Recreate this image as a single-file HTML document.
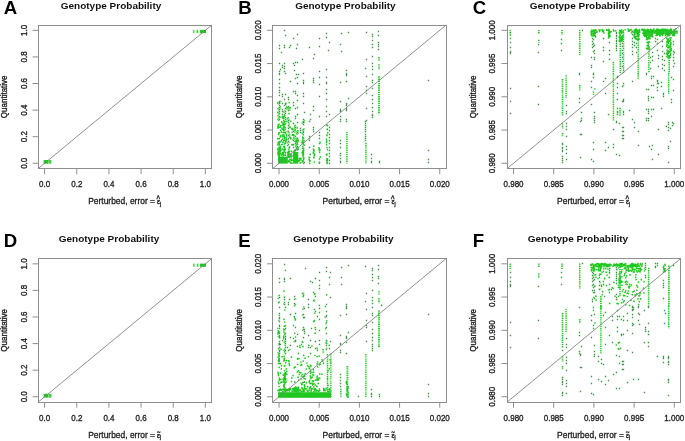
<!DOCTYPE html>
<html><head><meta charset="utf-8"><style>
html,body{margin:0;padding:0;background:#fff;}
svg{display:block;font-family:"Liberation Sans", sans-serif;filter:blur(0.35px);}
svg text{fill:#222;} .t{stroke:#222;stroke-width:0.3px;} .tb{fill:#111;} .tl{fill:#000;}
</style></head><body>
<svg width="685" height="441" viewBox="0 0 685 441">
<rect width="685" height="441" fill="#fff"/>
<g><rect x="192.9" y="29.9" width="1.6" height="3.2" fill="#1ec81e" fill-opacity="0.75"/><rect x="196.5" y="29.9" width="1.6" height="3.2" fill="#1ec81e" fill-opacity="0.85"/><rect x="199.9" y="29.9" width="6.1" height="3.2" fill="#1ec81e" fill-opacity="1.0"/><rect x="43.6" y="160.0" width="4.8" height="3.7" fill="#1ec81e" fill-opacity="1.0"/><rect x="48.6" y="160.0" width="2.7" height="3.7" fill="#1ec81e" fill-opacity="0.85"/><line x1="38.20" y1="168.60" x2="211.80" y2="25.00" stroke="#7c7c7c" stroke-width="0.85"/><rect x="38.50" y="25.50" width="173.00" height="143.00" fill="none" stroke="#8e8e8e" stroke-width="1"/><line x1="44.63" y1="168.60" x2="44.63" y2="174.20" stroke="#8e8e8e" stroke-width="1"/><line x1="32.60" y1="163.28" x2="38.20" y2="163.28" stroke="#8e8e8e" stroke-width="1"/><text transform="translate(44.63,187.10) scale(1,1.15)" text-anchor="middle" font-size="8" class="t">0.0</text><text transform="translate(26.50,163.28) rotate(-90) scale(1,1.18)" text-anchor="middle" font-size="8.0" class="t">0.0</text><line x1="76.78" y1="168.60" x2="76.78" y2="174.20" stroke="#8e8e8e" stroke-width="1"/><line x1="32.60" y1="136.69" x2="38.20" y2="136.69" stroke="#8e8e8e" stroke-width="1"/><text transform="translate(76.78,187.10) scale(1,1.15)" text-anchor="middle" font-size="8" class="t">0.2</text><text transform="translate(26.50,136.69) rotate(-90) scale(1,1.18)" text-anchor="middle" font-size="8.0" class="t">0.2</text><line x1="108.93" y1="168.60" x2="108.93" y2="174.20" stroke="#8e8e8e" stroke-width="1"/><line x1="32.60" y1="110.10" x2="38.20" y2="110.10" stroke="#8e8e8e" stroke-width="1"/><text transform="translate(108.93,187.10) scale(1,1.15)" text-anchor="middle" font-size="8" class="t">0.4</text><text transform="translate(26.50,110.10) rotate(-90) scale(1,1.18)" text-anchor="middle" font-size="8.0" class="t">0.4</text><line x1="141.07" y1="168.60" x2="141.07" y2="174.20" stroke="#8e8e8e" stroke-width="1"/><line x1="32.60" y1="83.50" x2="38.20" y2="83.50" stroke="#8e8e8e" stroke-width="1"/><text transform="translate(141.07,187.10) scale(1,1.15)" text-anchor="middle" font-size="8" class="t">0.6</text><text transform="translate(26.50,83.50) rotate(-90) scale(1,1.18)" text-anchor="middle" font-size="8.0" class="t">0.6</text><line x1="173.22" y1="168.60" x2="173.22" y2="174.20" stroke="#8e8e8e" stroke-width="1"/><line x1="32.60" y1="56.91" x2="38.20" y2="56.91" stroke="#8e8e8e" stroke-width="1"/><text transform="translate(173.22,187.10) scale(1,1.15)" text-anchor="middle" font-size="8" class="t">0.8</text><text transform="translate(26.50,56.91) rotate(-90) scale(1,1.18)" text-anchor="middle" font-size="8.0" class="t">0.8</text><line x1="205.37" y1="168.60" x2="205.37" y2="174.20" stroke="#8e8e8e" stroke-width="1"/><line x1="32.60" y1="30.32" x2="38.20" y2="30.32" stroke="#8e8e8e" stroke-width="1"/><text transform="translate(205.37,187.10) scale(1,1.15)" text-anchor="middle" font-size="8" class="t">1.0</text><text transform="translate(26.50,30.32) rotate(-90) scale(1,1.18)" text-anchor="middle" font-size="8.0" class="t">1.0</text><text transform="translate(7.20,96.80) rotate(-90) scale(1,1.2)" text-anchor="middle" font-size="8" class="t">Quantitative</text><g transform="translate(88.20,203.80) scale(1,1.116)" class="t"><text x="0" y="0" font-size="8.45">Perturbed, error =</text><text x="68.9" y="0" font-size="7">&#949;</text><text x="68.4" y="-1.6" font-size="7.5">^</text><text x="71.9" y="1.6" font-size="5">j</text></g><text transform="translate(111.00,8.90) scale(1,0.95)" text-anchor="middle" font-size="10" font-weight="bold" class="tb">Genotype Probability</text><text transform="translate(3.80,13.50) scale(1.07,1.05)" font-size="17.4" font-weight="bold" class="tl">A</text></g><g><rect x="278.0" y="156.9" width="9.8" height="6.7" fill="#1ec81e" fill-opacity="1.0"/><rect x="293.0" y="152.0" width="5.3" height="11.6" fill="#1ec81e" fill-opacity="1.0"/><line x1="379.0" y1="57.1" x2="379.0" y2="60.4" stroke="#1ec81e" stroke-width="1.6" stroke-dasharray="1.4 0.8"/><line x1="379.0" y1="64.2" x2="379.0" y2="69.6" stroke="#1ec81e" stroke-width="1.6" stroke-dasharray="1.4 0.8"/><line x1="379.0" y1="76.3" x2="379.0" y2="114.3" stroke="#1ec81e" stroke-width="1.8" stroke-dasharray="1.4 0.8"/><line x1="346.9" y1="131.9" x2="346.9" y2="163.6" stroke="#1ec81e" stroke-width="1.5" stroke-dasharray="1.4 0.8"/><line x1="365.9" y1="142.8" x2="365.9" y2="163.6" stroke="#1ec81e" stroke-width="1.5" stroke-dasharray="1.4 0.8"/><path d="M279.5 142.3h0M280.0 153.7h0M279.9 152.6h0M277.9 126.5h0M280.4 137.0h0M280.3 106.5h0M279.1 114.1h0M279.3 132.7h0M277.8 112.4h0M278.6 152.2h0M279.9 109.1h0M280.0 107.9h0M279.5 107.2h0M277.8 149.7h0M278.4 112.3h0M280.6 149.7h0M278.6 154.8h0M279.3 138.6h0M278.4 153.6h0M279.7 155.1h0M280.3 117.0h0M278.8 109.5h0M278.2 103.7h0M278.6 134.4h0M277.8 138.6h0M278.7 117.7h0M280.1 127.4h0M278.7 127.4h0M279.8 103.2h0M280.5 101.3h0M279.9 148.2h0M277.9 144.9h0M278.8 133.0h0M277.8 102.7h0M278.3 154.4h0M278.4 143.1h0M280.4 153.7h0M278.8 120.2h0M279.3 144.2h0M278.1 142.7h0M280.0 149.0h0M277.9 153.9h0M278.1 119.4h0M279.5 152.3h0M278.8 152.7h0M279.3 117.8h0M278.7 110.1h0M278.0 108.5h0M279.7 156.8h0M278.3 102.8h0M280.6 130.4h0M278.9 113.5h0M279.5 147.1h0M279.1 124.0h0M278.0 152.2h0M277.9 128.1h0M280.1 107.4h0M279.8 154.1h0M279.6 144.9h0M278.1 124.8h0M278.2 148.1h0M278.6 125.8h0M280.6 148.6h0M280.5 125.9h0M279.2 141.6h0M279.1 116.6h0M278.9 108.4h0M278.9 156.3h0M280.5 135.7h0M279.2 119.3h0M278.0 115.5h0M280.0 149.4h0M278.8 153.4h0M280.0 151.8h0M279.7 152.9h0M278.8 152.0h0M278.6 148.3h0M280.0 151.7h0M278.6 156.1h0M279.6 149.9h0M277.8 149.3h0M278.5 151.4h0M279.1 153.9h0M279.6 153.6h0M278.8 150.9h0M279.9 154.1h0M283.4 149.6h0M285.2 142.4h0M285.5 155.0h0M284.0 134.9h0M282.8 149.3h0M285.4 132.4h0M284.6 143.8h0M284.7 118.1h0M284.9 137.3h0M284.5 129.8h0M284.3 146.4h0M284.4 143.9h0M282.3 117.5h0M283.7 140.6h0M282.9 142.2h0M284.3 112.0h0M283.8 120.6h0M282.4 116.3h0M283.3 118.5h0M282.9 111.7h0M283.8 127.9h0M284.3 137.7h0M283.0 152.4h0M282.2 129.1h0M283.1 129.3h0M282.6 149.1h0M283.5 111.7h0M284.3 114.5h0M284.1 126.0h0M284.2 155.0h0M285.0 129.7h0M285.0 140.2h0M283.5 116.7h0M284.2 136.5h0M285.5 155.5h0M284.3 126.5h0M285.2 110.0h0M282.6 136.6h0M284.3 116.6h0M284.3 151.9h0M283.5 130.3h0M283.0 123.7h0M285.5 127.8h0M285.5 152.9h0M284.2 122.2h0M285.5 133.3h0M283.6 125.0h0M285.5 133.1h0M283.2 132.4h0M282.6 139.2h0M283.7 123.8h0M284.9 148.9h0M282.2 135.0h0M283.1 154.0h0M284.9 121.5h0M283.1 117.3h0M285.6 123.8h0M284.3 132.3h0M284.4 138.4h0M284.7 115.6h0M284.8 124.1h0M284.0 125.8h0M283.2 134.9h0M283.8 127.0h0M284.7 150.0h0M282.3 144.3h0M283.7 155.6h0M285.2 149.3h0M282.2 153.2h0M283.7 149.8h0M284.6 150.7h0M283.8 155.5h0M283.5 146.7h0M285.1 143.3h0M283.2 154.1h0M282.4 154.2h0M284.6 147.4h0M283.2 153.3h0M282.1 125.3h0M281.4 140.3h0M281.4 132.2h0M280.8 141.7h0M281.9 122.5h0M281.0 150.3h0M281.9 144.6h0M280.6 146.7h0M282.2 156.9h0M281.7 121.8h0M281.9 128.1h0M281.6 155.2h0M289.6 107.7h0M287.5 152.3h0M286.7 134.8h0M288.1 109.2h0M289.1 102.5h0M286.5 121.6h0M286.4 103.3h0M288.9 142.3h0M290.4 107.7h0M288.2 117.9h0M289.0 127.9h0M290.7 121.3h0M286.3 139.7h0M286.8 136.0h0M288.5 151.9h0M288.8 135.4h0M287.3 131.4h0M287.3 142.8h0M288.6 107.6h0M287.2 121.2h0M289.7 110.2h0M289.6 137.3h0M286.4 138.1h0M286.5 107.1h0M289.0 113.6h0M290.4 127.4h0M287.6 145.4h0M286.1 141.3h0M286.3 108.6h0M290.8 138.8h0M287.1 106.6h0M290.9 137.9h0M290.1 108.0h0M289.1 120.2h0M287.2 119.0h0M289.1 119.9h0M287.9 107.8h0M297.6 144.2h0M297.4 138.8h0M297.8 140.9h0M295.7 142.3h0M296.9 137.9h0M291.8 128.8h0M292.6 129.0h0M298.1 140.0h0M297.1 128.0h0M294.8 150.2h0M296.0 138.7h0M294.7 130.5h0M292.2 132.0h0M294.0 137.6h0M298.0 131.8h0M293.0 134.9h0M292.3 135.2h0M292.9 140.1h0M291.3 151.1h0M294.0 151.4h0M296.5 144.8h0M294.8 151.6h0M291.9 144.7h0M293.3 144.9h0M296.8 132.1h0M292.6 128.6h0M302.6 123.3h0M303.0 160.9h0M302.9 133.1h0M303.2 131.9h0M303.8 150.2h0M302.4 130.1h0M303.7 159.5h0M303.6 138.1h0M304.4 120.3h0M302.2 152.7h0M303.0 121.9h0M303.4 161.6h0M303.3 134.7h0M302.2 123.0h0M304.2 140.6h0M304.3 122.3h0M302.6 122.1h0M303.0 122.5h0M302.6 137.1h0M302.8 122.2h0M302.1 160.8h0M302.4 141.4h0M303.0 142.3h0M302.2 133.2h0M302.3 142.8h0M304.3 145.1h0M304.1 129.0h0M302.0 142.7h0M303.2 144.0h0M302.9 146.3h0M303.8 158.3h0M302.8 138.9h0M291.8 155.9h0M288.3 156.8h0M288.2 161.4h0M291.8 156.8h0M288.4 154.5h0M289.0 154.5h0M289.9 159.4h0M289.0 154.3h0M291.2 154.1h0M288.8 156.5h0M289.6 154.6h0M289.8 156.8h0M291.5 159.2h0M292.2 160.2h0M291.5 159.4h0M289.9 161.8h0M291.0 163.2h0M291.3 160.7h0M289.1 161.8h0M289.7 154.9h0M288.1 155.3h0M289.1 160.4h0M289.2 154.3h0M291.5 159.2h0M287.9 154.2h0M288.4 157.2h0M292.0 163.1h0M290.8 156.0h0M289.9 157.3h0M288.6 121.4h0M289.1 148.0h0M289.3 124.1h0M289.0 126.6h0M289.3 135.6h0M289.6 146.9h0M288.3 131.4h0M289.6 136.0h0M288.8 135.4h0M289.4 151.6h0M289.0 152.7h0M289.1 124.4h0M289.4 134.7h0M288.2 152.9h0M288.2 139.8h0M288.9 149.8h0M288.7 128.0h0M288.6 127.6h0M289.0 132.7h0M297.0 131.8h0M294.9 132.0h0M298.2 147.8h0M297.5 141.8h0M295.1 129.2h0M297.4 138.4h0M293.2 129.9h0M293.5 144.5h0M297.8 130.7h0M297.3 134.0h0M296.6 148.4h0M296.3 146.7h0M295.0 125.6h0M295.7 141.0h0M294.0 135.7h0M294.7 126.1h0M294.7 135.6h0M295.5 144.1h0M295.1 151.5h0M297.4 150.0h0M296.7 143.2h0M295.9 146.6h0M294.9 141.2h0M296.6 139.3h0M294.5 127.4h0M293.5 134.8h0M296.1 145.6h0M296.8 133.5h0M298.0 132.7h0M296.8 127.3h0M297.0 143.2h0M298.1 149.3h0M296.7 147.7h0M296.9 141.6h0M294.1 139.1h0M297.8 131.7h0M298.2 139.9h0M295.1 125.4h0M295.1 130.1h0M296.5 149.3h0M297.9 141.7h0M295.1 128.3h0M296.7 140.1h0M300.4 159.4h0M300.8 158.3h0M299.2 158.7h0M300.1 163.0h0M298.8 161.2h0M300.5 158.4h0M298.5 160.7h0M300.7 162.8h0M300.4 159.7h0M299.5 160.5h0M300.9 158.9h0M302.8 150.8h0M303.7 142.6h0M302.5 141.2h0M303.2 150.8h0M302.7 142.7h0M303.2 151.6h0M303.4 153.2h0M302.5 148.4h0M303.6 157.7h0M302.9 155.6h0M303.3 157.1h0M302.8 152.6h0M303.6 148.3h0M302.6 142.7h0M302.7 140.8h0M302.7 151.0h0M302.6 153.8h0M303.4 154.9h0M303.5 152.9h0M303.7 157.7h0M303.8 163.6h0M302.7 161.5h0M302.6 161.8h0M303.3 162.4h0M309.9 161.1h0M309.1 157.7h0M309.7 157.4h0M309.2 159.6h0M309.5 160.5h0M309.6 163.3h0M310.2 154.4h0M310.0 160.9h0M313.7 146.2h0M314.0 150.9h0M314.3 162.0h0M313.8 149.6h0M314.0 157.7h0M314.4 155.3h0M313.7 150.5h0M314.5 154.1h0M313.4 152.2h0M313.7 157.0h0M313.4 149.2h0M313.5 153.3h0M314.6 154.6h0M319.5 162.2h0M319.1 149.8h0M320.1 142.3h0M320.0 150.0h0M319.0 147.6h0M319.6 150.4h0M319.7 143.4h0M319.3 163.1h0M319.6 152.3h0M319.1 148.2h0M320.3 156.9h0M319.7 143.4h0M319.5 158.9h0M327.0 147.6h0M327.6 149.7h0M327.2 125.7h0M326.4 154.6h0M326.9 158.7h0M327.5 160.3h0M326.9 163.6h0M327.4 159.4h0M326.6 155.0h0M327.0 162.6h0M327.7 132.8h0M327.0 134.9h0M327.0 135.6h0M327.3 129.1h0M326.6 142.3h0M326.5 139.3h0M327.6 159.1h0M326.7 125.0h0M327.5 162.1h0M327.2 129.6h0M326.7 160.5h0M327.6 125.5h0M326.7 141.2h0M326.8 154.0h0M326.9 154.8h0M326.6 144.7h0" stroke="#1ec81e" stroke-width="1.7" stroke-linecap="round" fill="none"/><path d="M284.5 30.5h0M285.5 35.5h0M297.5 34.5h0M293.5 38.5h0M279.5 45.5h0M279.5 48.5h0M284.5 45.5h0M284.5 47.5h0M290.5 45.5h0M289.5 47.5h0M297.5 44.5h0M296.5 48.5h0M281.5 52.5h0M319.5 38.5h0M319.5 46.5h0M309.5 47.5h0M314.5 54.5h0M313.5 58.5h0M302.5 59.5h0M326.5 33.5h0M326.5 37.5h0M329.5 42.5h0M328.5 50.5h0M279.5 63.5h0M284.5 63.5h0M282.5 65.5h0M284.5 66.5h0M293.5 63.5h0M295.5 62.5h0M297.5 62.5h0M294.5 65.5h0M280.5 69.5h0M282.5 67.5h0M284.5 68.5h0M284.5 71.5h0M294.5 70.5h0M319.5 71.5h0M326.5 69.5h0M279.5 71.5h0M341.5 33.5h0M348.5 32.5h0M340.5 44.5h0M341.5 51.5h0M366.5 32.5h0M372.5 34.5h0M372.5 36.5h0M372.5 40.5h0M372.5 44.5h0M372.5 47.5h0M372.5 56.5h0M372.5 63.5h0M372.5 66.5h0M372.5 69.5h0M366.5 59.5h0M365.5 68.5h0M378.5 31.5h0M378.5 35.5h0M378.5 42.5h0M378.5 44.5h0M378.5 46.5h0M378.5 49.5h0M346.5 70.5h0M279.5 73.5h0M279.5 74.5h0M279.5 79.5h0M279.5 83.5h0M279.5 87.5h0M279.5 90.5h0M279.5 92.5h0M279.5 95.5h0M279.5 101.5h0M279.5 102.5h0M279.5 103.5h0M279.5 105.5h0M279.5 107.5h0M279.5 109.5h0M279.5 111.5h0M279.5 113.5h0M279.5 116.5h0M279.5 119.5h0M285.5 73.5h0M285.5 94.5h0M285.5 103.5h0M285.5 104.5h0M285.5 108.5h0M285.5 111.5h0M285.5 113.5h0M285.5 117.5h0M285.5 119.5h0M282.5 94.5h0M282.5 96.5h0M282.5 103.5h0M282.5 109.5h0M282.5 111.5h0M282.5 114.5h0M284.5 99.5h0M284.5 105.5h0M288.5 97.5h0M288.5 99.5h0M288.5 106.5h0M288.5 110.5h0M288.5 120.5h0M290.5 81.5h0M293.5 91.5h0M293.5 102.5h0M293.5 105.5h0M295.5 78.5h0M295.5 91.5h0M295.5 93.5h0M295.5 108.5h0M295.5 116.5h0M295.5 118.5h0M296.5 74.5h0M297.5 77.5h0M297.5 83.5h0M297.5 95.5h0M297.5 100.5h0M297.5 107.5h0M297.5 114.5h0M298.5 74.5h0M303.5 73.5h0M303.5 80.5h0M303.5 82.5h0M303.5 83.5h0M303.5 93.5h0M303.5 96.5h0M303.5 103.5h0M303.5 119.5h0M304.5 112.5h0M310.5 114.5h0M310.5 119.5h0M313.5 78.5h0M313.5 80.5h0M313.5 82.5h0M313.5 106.5h0M313.5 110.5h0M319.5 77.5h0M319.5 84.5h0M319.5 96.5h0M319.5 116.5h0M326.5 77.5h0M326.5 82.5h0M326.5 83.5h0M326.5 89.5h0M326.5 93.5h0M326.5 99.5h0M326.5 106.5h0M326.5 111.5h0M326.5 116.5h0M329.5 114.5h0M346.5 73.5h0M346.5 74.5h0M346.5 75.5h0M346.5 81.5h0M346.5 103.5h0M346.5 104.5h0M346.5 105.5h0M346.5 108.5h0M346.5 109.5h0M346.5 110.5h0M346.5 119.5h0M348.5 98.5h0M340.5 82.5h0M340.5 101.5h0M340.5 109.5h0M340.5 110.5h0M340.5 111.5h0M340.5 116.5h0M340.5 119.5h0M366.5 76.5h0M366.5 86.5h0M366.5 90.5h0M366.5 93.5h0M366.5 108.5h0M366.5 120.5h0M372.5 74.5h0M372.5 80.5h0M372.5 82.5h0M372.5 88.5h0M372.5 95.5h0M372.5 99.5h0M372.5 103.5h0M372.5 107.5h0M372.5 111.5h0M372.5 114.5h0M372.5 115.5h0M372.5 117.5h0M428.5 80.5h0M428.5 150.5h0M428.5 159.5h0M428.5 162.5h0M340.5 121.5h0M340.5 121.5h0M340.5 140.5h0M340.5 143.5h0M340.5 147.5h0M340.5 153.5h0M340.5 155.5h0M340.5 158.5h0M340.5 161.5h0M340.5 162.5h0M346.5 121.5h0M346.5 121.5h0M365.5 121.5h0M365.5 123.5h0M365.5 125.5h0M365.5 127.5h0M365.5 129.5h0M365.5 131.5h0M365.5 134.5h0M365.5 136.5h0M365.5 138.5h0M365.5 140.5h0M371.5 154.5h0M371.5 158.5h0M371.5 161.5h0M371.5 162.5h0M379.5 161.5h0M379.5 162.5h0M288.5 122.5h0M288.5 125.5h0M288.5 128.5h0M288.5 131.5h0M288.5 135.5h0M288.5 138.5h0M288.5 141.5h0M288.5 144.5h0M293.5 123.5h0M293.5 131.5h0M293.5 140.5h0M293.5 147.5h0M295.5 127.5h0M295.5 136.5h0M295.5 143.5h0M295.5 150.5h0M297.5 122.5h0M297.5 132.5h0M297.5 138.5h0M297.5 146.5h0M300.5 128.5h0M300.5 130.5h0M300.5 132.5h0M303.5 121.5h0M303.5 122.5h0M303.5 124.5h0M303.5 129.5h0M303.5 131.5h0M303.5 132.5h0M304.5 162.5h0M309.5 121.5h0M309.5 136.5h0M309.5 138.5h0M309.5 140.5h0M309.5 147.5h0M313.5 127.5h0M313.5 129.5h0M313.5 131.5h0M319.5 132.5h0M319.5 135.5h0M319.5 138.5h0M329.5 127.5h0M329.5 130.5h0M329.5 134.5h0M329.5 137.5h0M329.5 140.5h0M329.5 143.5h0M329.5 147.5h0M329.5 150.5h0M329.5 153.5h0M329.5 156.5h0M329.5 160.5h0M329.5 163.5h0" stroke="#c8f2c8" stroke-width="2.3" stroke-linecap="round" fill="none"/><path d="M284.5 30.5h0M285.5 35.5h0M297.5 34.5h0M293.5 38.5h0M279.5 45.5h0M279.5 48.5h0M284.5 45.5h0M284.5 47.5h0M290.5 45.5h0M289.5 47.5h0M297.5 44.5h0M296.5 48.5h0M281.5 52.5h0M319.5 38.5h0M319.5 46.5h0M309.5 47.5h0M314.5 54.5h0M313.5 58.5h0M302.5 59.5h0M326.5 33.5h0M326.5 37.5h0M329.5 42.5h0M328.5 50.5h0M279.5 63.5h0M284.5 63.5h0M282.5 65.5h0M284.5 66.5h0M293.5 63.5h0M295.5 62.5h0M297.5 62.5h0M294.5 65.5h0M280.5 69.5h0M282.5 67.5h0M284.5 68.5h0M284.5 71.5h0M294.5 70.5h0M319.5 71.5h0M326.5 69.5h0M279.5 71.5h0M341.5 33.5h0M348.5 32.5h0M340.5 44.5h0M341.5 51.5h0M366.5 32.5h0M372.5 34.5h0M372.5 36.5h0M372.5 40.5h0M372.5 44.5h0M372.5 47.5h0M372.5 56.5h0M372.5 63.5h0M372.5 66.5h0M372.5 69.5h0M366.5 59.5h0M365.5 68.5h0M378.5 31.5h0M378.5 35.5h0M378.5 42.5h0M378.5 44.5h0M378.5 46.5h0M378.5 49.5h0M346.5 70.5h0M279.5 73.5h0M279.5 74.5h0M279.5 79.5h0M279.5 83.5h0M279.5 87.5h0M279.5 90.5h0M279.5 92.5h0M279.5 95.5h0M279.5 101.5h0M279.5 102.5h0M279.5 103.5h0M279.5 105.5h0M279.5 107.5h0M279.5 109.5h0M279.5 111.5h0M279.5 113.5h0M279.5 116.5h0M279.5 119.5h0M285.5 73.5h0M285.5 94.5h0M285.5 103.5h0M285.5 104.5h0M285.5 108.5h0M285.5 111.5h0M285.5 113.5h0M285.5 117.5h0M285.5 119.5h0M282.5 94.5h0M282.5 96.5h0M282.5 103.5h0M282.5 109.5h0M282.5 111.5h0M282.5 114.5h0M284.5 99.5h0M284.5 105.5h0M288.5 97.5h0M288.5 99.5h0M288.5 106.5h0M288.5 110.5h0M288.5 120.5h0M290.5 81.5h0M293.5 91.5h0M293.5 102.5h0M293.5 105.5h0M295.5 78.5h0M295.5 91.5h0M295.5 93.5h0M295.5 108.5h0M295.5 116.5h0M295.5 118.5h0M296.5 74.5h0M297.5 77.5h0M297.5 83.5h0M297.5 95.5h0M297.5 100.5h0M297.5 107.5h0M297.5 114.5h0M298.5 74.5h0M303.5 73.5h0M303.5 80.5h0M303.5 82.5h0M303.5 83.5h0M303.5 93.5h0M303.5 96.5h0M303.5 103.5h0M303.5 119.5h0M304.5 112.5h0M310.5 114.5h0M310.5 119.5h0M313.5 78.5h0M313.5 80.5h0M313.5 82.5h0M313.5 106.5h0M313.5 110.5h0M319.5 77.5h0M319.5 84.5h0M319.5 96.5h0M319.5 116.5h0M326.5 77.5h0M326.5 82.5h0M326.5 83.5h0M326.5 89.5h0M326.5 93.5h0M326.5 99.5h0M326.5 106.5h0M326.5 111.5h0M326.5 116.5h0M329.5 114.5h0M346.5 73.5h0M346.5 74.5h0M346.5 75.5h0M346.5 81.5h0M346.5 103.5h0M346.5 104.5h0M346.5 105.5h0M346.5 108.5h0M346.5 109.5h0M346.5 110.5h0M346.5 119.5h0M348.5 98.5h0M340.5 82.5h0M340.5 101.5h0M340.5 109.5h0M340.5 110.5h0M340.5 111.5h0M340.5 116.5h0M340.5 119.5h0M366.5 76.5h0M366.5 86.5h0M366.5 90.5h0M366.5 93.5h0M366.5 108.5h0M366.5 120.5h0M372.5 74.5h0M372.5 80.5h0M372.5 82.5h0M372.5 88.5h0M372.5 95.5h0M372.5 99.5h0M372.5 103.5h0M372.5 107.5h0M372.5 111.5h0M372.5 114.5h0M372.5 115.5h0M372.5 117.5h0M428.5 80.5h0M428.5 150.5h0M428.5 159.5h0M428.5 162.5h0M340.5 121.5h0M340.5 121.5h0M340.5 140.5h0M340.5 143.5h0M340.5 147.5h0M340.5 153.5h0M340.5 155.5h0M340.5 158.5h0M340.5 161.5h0M340.5 162.5h0M346.5 121.5h0M346.5 121.5h0M365.5 121.5h0M365.5 123.5h0M365.5 125.5h0M365.5 127.5h0M365.5 129.5h0M365.5 131.5h0M365.5 134.5h0M365.5 136.5h0M365.5 138.5h0M365.5 140.5h0M371.5 154.5h0M371.5 158.5h0M371.5 161.5h0M371.5 162.5h0M379.5 161.5h0M379.5 162.5h0M288.5 122.5h0M288.5 125.5h0M288.5 128.5h0M288.5 131.5h0M288.5 135.5h0M288.5 138.5h0M288.5 141.5h0M288.5 144.5h0M293.5 123.5h0M293.5 131.5h0M293.5 140.5h0M293.5 147.5h0M295.5 127.5h0M295.5 136.5h0M295.5 143.5h0M295.5 150.5h0M297.5 122.5h0M297.5 132.5h0M297.5 138.5h0M297.5 146.5h0M300.5 128.5h0M300.5 130.5h0M300.5 132.5h0M303.5 121.5h0M303.5 122.5h0M303.5 124.5h0M303.5 129.5h0M303.5 131.5h0M303.5 132.5h0M304.5 162.5h0M309.5 121.5h0M309.5 136.5h0M309.5 138.5h0M309.5 140.5h0M309.5 147.5h0M313.5 127.5h0M313.5 129.5h0M313.5 131.5h0M319.5 132.5h0M319.5 135.5h0M319.5 138.5h0M329.5 127.5h0M329.5 130.5h0M329.5 134.5h0M329.5 137.5h0M329.5 140.5h0M329.5 143.5h0M329.5 147.5h0M329.5 150.5h0M329.5 153.5h0M329.5 156.5h0M329.5 160.5h0M329.5 163.5h0" stroke="#4b8a58" stroke-width="1.3" stroke-linecap="round" fill="none"/><line x1="272.60" y1="168.60" x2="446.20" y2="25.00" stroke="#7c7c7c" stroke-width="0.85"/><rect x="272.50" y="25.50" width="174.00" height="143.00" fill="none" stroke="#8e8e8e" stroke-width="1"/><line x1="279.03" y1="168.60" x2="279.03" y2="174.20" stroke="#8e8e8e" stroke-width="1"/><line x1="267.00" y1="163.28" x2="272.60" y2="163.28" stroke="#8e8e8e" stroke-width="1"/><text transform="translate(279.03,187.10) scale(1,1.15)" text-anchor="middle" font-size="8" class="t">0.000</text><text transform="translate(260.90,163.28) rotate(-90) scale(1,1.18)" text-anchor="middle" font-size="8.0" class="t">0.000</text><line x1="319.21" y1="168.60" x2="319.21" y2="174.20" stroke="#8e8e8e" stroke-width="1"/><line x1="267.00" y1="130.04" x2="272.60" y2="130.04" stroke="#8e8e8e" stroke-width="1"/><text transform="translate(319.21,187.10) scale(1,1.15)" text-anchor="middle" font-size="8" class="t">0.005</text><text transform="translate(260.90,130.04) rotate(-90) scale(1,1.18)" text-anchor="middle" font-size="8.0" class="t">0.005</text><line x1="359.40" y1="168.60" x2="359.40" y2="174.20" stroke="#8e8e8e" stroke-width="1"/><line x1="267.00" y1="96.80" x2="272.60" y2="96.80" stroke="#8e8e8e" stroke-width="1"/><text transform="translate(359.40,187.10) scale(1,1.15)" text-anchor="middle" font-size="8" class="t">0.010</text><text transform="translate(260.90,96.80) rotate(-90) scale(1,1.18)" text-anchor="middle" font-size="8.0" class="t">0.010</text><line x1="399.59" y1="168.60" x2="399.59" y2="174.20" stroke="#8e8e8e" stroke-width="1"/><line x1="267.00" y1="63.56" x2="272.60" y2="63.56" stroke="#8e8e8e" stroke-width="1"/><text transform="translate(399.59,187.10) scale(1,1.15)" text-anchor="middle" font-size="8" class="t">0.015</text><text transform="translate(260.90,63.56) rotate(-90) scale(1,1.18)" text-anchor="middle" font-size="8.0" class="t">0.015</text><line x1="439.77" y1="168.60" x2="439.77" y2="174.20" stroke="#8e8e8e" stroke-width="1"/><line x1="267.00" y1="30.32" x2="272.60" y2="30.32" stroke="#8e8e8e" stroke-width="1"/><text transform="translate(439.77,187.10) scale(1,1.15)" text-anchor="middle" font-size="8" class="t">0.020</text><text transform="translate(260.90,30.32) rotate(-90) scale(1,1.18)" text-anchor="middle" font-size="8.0" class="t">0.020</text><text transform="translate(241.60,96.80) rotate(-90) scale(1,1.2)" text-anchor="middle" font-size="8" class="t">Quantitative</text><g transform="translate(322.60,203.80) scale(1,1.116)" class="t"><text x="0" y="0" font-size="8.45">Perturbed, error =</text><text x="68.9" y="0" font-size="7">&#949;</text><text x="68.4" y="-1.6" font-size="7.5">^</text><text x="71.9" y="1.6" font-size="5">j</text></g><text transform="translate(345.40,8.90) scale(1,0.95)" text-anchor="middle" font-size="10" font-weight="bold" class="tb">Genotype Probability</text><text transform="translate(238.20,13.50) scale(1.07,1.05)" font-size="17.4" font-weight="bold" class="tl">B</text></g><g><line x1="510.3" y1="29.9" x2="510.3" y2="35.9" stroke="#1ec81e" stroke-width="1.6" stroke-dasharray="1.4 0.8"/><line x1="538.8" y1="29.9" x2="538.8" y2="33.7" stroke="#1ec81e" stroke-width="1.6" stroke-dasharray="1.4 0.8"/><line x1="538.8" y1="39.7" x2="538.8" y2="42.4" stroke="#1ec81e" stroke-width="1.6" stroke-dasharray="1.4 0.8"/><line x1="562.0" y1="29.9" x2="562.0" y2="34.8" stroke="#1ec81e" stroke-width="1.6" stroke-dasharray="1.4 0.8"/><line x1="579.7" y1="29.9" x2="579.7" y2="54.9" stroke="#1ec81e" stroke-width="1.6" stroke-dasharray="1.4 0.8"/><line x1="613.4" y1="62.0" x2="613.4" y2="73.0" stroke="#1ec81e" stroke-width="1.6" stroke-dasharray="1.4 0.8"/><line x1="620.3" y1="41.3" x2="620.3" y2="73.0" stroke="#1ec81e" stroke-width="1.6" stroke-dasharray="1.4 0.8"/><line x1="623.5" y1="29.9" x2="623.5" y2="73.0" stroke="#1ec81e" stroke-width="1.5" stroke-dasharray="1.4 0.8"/><line x1="638.2" y1="40.2" x2="638.2" y2="73.0" stroke="#1ec81e" stroke-width="1.4" stroke-dasharray="1.4 0.8"/><line x1="648.9" y1="48.9" x2="648.9" y2="73.0" stroke="#1ec81e" stroke-width="1.5" stroke-dasharray="1.4 0.8"/><line x1="669.2" y1="57.6" x2="669.2" y2="73.0" stroke="#1ec81e" stroke-width="1.6" stroke-dasharray="1.4 0.8"/><line x1="562.5" y1="79.0" x2="562.5" y2="116.5" stroke="#1ec81e" stroke-width="1.6" stroke-dasharray="1.4 0.8"/><line x1="566.1" y1="75.2" x2="566.1" y2="98.0" stroke="#1ec81e" stroke-width="1.4" stroke-dasharray="1.4 0.8"/><line x1="579.7" y1="85.0" x2="579.7" y2="90.4" stroke="#1ec81e" stroke-width="1.6" stroke-dasharray="1.4 0.8"/><line x1="593.5" y1="91.5" x2="593.5" y2="95.9" stroke="#1ec81e" stroke-width="1.4" stroke-dasharray="1.4 0.8"/><line x1="594.9" y1="88.2" x2="594.9" y2="90.4" stroke="#1ec81e" stroke-width="1.4" stroke-dasharray="1.4 0.8"/><line x1="613.4" y1="73.0" x2="613.4" y2="121.0" stroke="#1ec81e" stroke-width="1.5" stroke-dasharray="1.4 0.8"/><line x1="620.0" y1="107.8" x2="620.0" y2="116.5" stroke="#1ec81e" stroke-width="1.6" stroke-dasharray="1.4 0.8"/><line x1="623.5" y1="82.8" x2="623.5" y2="87.1" stroke="#1ec81e" stroke-width="1.4" stroke-dasharray="1.4 0.8"/><line x1="638.2" y1="73.0" x2="638.2" y2="79.5" stroke="#1ec81e" stroke-width="1.6" stroke-dasharray="1.4 0.8"/><line x1="668.7" y1="73.0" x2="668.7" y2="93.7" stroke="#1ec81e" stroke-width="1.5" stroke-dasharray="1.4 0.8"/><line x1="562.5" y1="123.2" x2="562.5" y2="128.6" stroke="#1ec81e" stroke-width="1.6" stroke-dasharray="1.4 0.8"/><line x1="562.5" y1="133.0" x2="562.5" y2="136.2" stroke="#1ec81e" stroke-width="1.5" stroke-dasharray="1.4 0.8"/><path d="M593.1 33.9h0M595.1 33.2h0M593.3 34.1h0M591.9 33.5h0M593.9 35.5h0M591.5 32.0h0M591.5 35.6h0M594.1 30.2h0M595.4 36.7h0M594.0 34.3h0M591.8 30.0h0M593.4 30.3h0M591.9 31.6h0M591.2 33.2h0M593.0 35.9h0M593.4 34.4h0M593.3 34.6h0M593.1 31.9h0M595.5 36.9h0M594.8 34.9h0M592.5 31.5h0M592.4 30.4h0M594.5 32.7h0M594.8 32.6h0M595.3 35.9h0M591.1 31.4h0M595.1 33.2h0M595.4 32.7h0M591.4 34.3h0M594.5 31.8h0M602.7 31.2h0M603.9 32.8h0M602.7 30.8h0M602.7 30.1h0M603.7 30.6h0M609.3 33.5h0M608.7 35.9h0M608.6 35.2h0M608.5 33.3h0M608.7 32.1h0M610.1 36.5h0M608.9 37.1h0M608.7 33.1h0M609.9 35.1h0M608.5 38.0h0M608.7 32.0h0M609.7 32.6h0M608.9 30.5h0M619.5 36.6h0M620.1 36.8h0M620.6 35.1h0M622.8 35.4h0M621.4 39.8h0M619.9 31.7h0M622.7 39.2h0M620.1 32.1h0M622.0 40.6h0M619.9 40.8h0M622.6 36.8h0M620.8 31.1h0M619.3 40.9h0M620.1 37.9h0M620.2 39.3h0M621.5 33.2h0M619.9 38.1h0M619.5 32.5h0M621.3 39.6h0M621.5 33.1h0M622.7 32.2h0M619.3 33.0h0M620.9 30.6h0M619.9 34.1h0M621.4 31.4h0M620.6 40.1h0M622.9 37.4h0M621.8 36.6h0M619.7 30.3h0M619.3 40.3h0M621.9 40.9h0M619.3 37.2h0M621.0 38.2h0M620.4 41.3h0M619.5 36.1h0M622.0 40.2h0M622.0 37.9h0M622.2 40.4h0M620.5 37.7h0M622.6 39.8h0M620.8 38.9h0M638.6 35.8h0M637.3 33.8h0M637.1 36.2h0M634.3 36.5h0M639.3 39.0h0M637.8 33.9h0M637.9 35.9h0M636.3 38.6h0M634.3 37.7h0M634.0 36.1h0M636.5 32.3h0M637.7 35.0h0M637.2 39.4h0M635.3 30.0h0M635.5 36.9h0M635.0 31.7h0M638.8 36.7h0M636.3 39.1h0M635.7 36.8h0M635.0 34.4h0M638.3 39.3h0M638.7 33.9h0M637.1 33.2h0M634.6 35.0h0M638.4 38.7h0M637.8 39.7h0M635.4 31.6h0M636.3 32.7h0M635.0 34.2h0M637.3 35.0h0M635.6 38.6h0M639.2 34.6h0M634.3 30.2h0M638.6 30.3h0M637.7 35.8h0M635.6 38.1h0M634.0 31.3h0M636.4 30.2h0M638.4 32.4h0M634.6 30.4h0M637.3 34.5h0M637.3 36.7h0M638.3 39.8h0M637.6 32.0h0M636.5 31.7h0M633.9 34.8h0M637.8 31.7h0M645.4 32.3h0M649.8 33.6h0M648.9 35.2h0M646.7 35.5h0M652.0 30.5h0M652.2 35.0h0M643.9 33.1h0M649.1 36.3h0M646.5 33.9h0M651.7 35.5h0M652.3 33.2h0M649.3 31.3h0M650.1 35.7h0M649.2 35.0h0M644.8 36.3h0M652.7 36.8h0M648.1 35.5h0M645.9 36.3h0M651.4 32.4h0M643.4 33.0h0M648.3 35.3h0M647.6 30.1h0M651.0 30.3h0M650.9 31.1h0M646.1 35.5h0M644.0 30.9h0M647.9 35.0h0M651.3 34.8h0M652.4 33.4h0M652.4 30.5h0M644.9 33.6h0M645.6 35.1h0M649.2 33.6h0M651.3 33.9h0M645.8 32.6h0M651.3 36.3h0M644.7 35.9h0M652.6 33.6h0M648.5 31.3h0M648.1 33.5h0M648.8 30.1h0M652.6 33.5h0M646.7 35.6h0M648.4 33.4h0M649.7 30.4h0M648.2 32.8h0M652.5 36.4h0M645.4 33.2h0M643.9 33.0h0M651.0 36.3h0M647.5 32.1h0M644.6 34.3h0M652.2 30.8h0M650.6 30.1h0M644.6 31.5h0M649.7 32.2h0M646.3 34.3h0M643.7 35.1h0M643.9 33.5h0M645.2 31.3h0M648.1 33.0h0M646.5 32.8h0M648.1 31.0h0M644.7 34.4h0M649.2 33.6h0M651.4 34.2h0M651.4 31.5h0M650.2 35.6h0M651.9 32.1h0M647.6 48.0h0M647.2 48.9h0M649.8 38.6h0M647.3 45.7h0M647.4 38.1h0M649.6 42.0h0M649.4 38.5h0M647.9 45.2h0M646.5 39.4h0M649.0 47.9h0M650.1 38.4h0M648.3 46.0h0M648.3 45.2h0M647.1 37.8h0M646.8 37.4h0M648.5 43.1h0M648.6 38.7h0M647.1 39.4h0M649.6 48.8h0M649.9 38.1h0M646.6 48.4h0M648.2 46.1h0M647.6 42.6h0M648.4 42.1h0M648.7 37.1h0M649.1 47.1h0M647.1 42.4h0M649.2 41.8h0M647.1 38.9h0M648.3 37.2h0M672.6 34.7h0M668.9 35.0h0M667.4 32.3h0M666.8 32.9h0M674.3 34.7h0M660.2 35.4h0M669.7 34.6h0M671.1 32.3h0M672.7 35.2h0M668.7 34.5h0M670.1 32.3h0M669.3 30.3h0M661.8 32.7h0M655.3 32.0h0M667.6 33.6h0M659.6 35.6h0M668.1 31.9h0M668.0 33.3h0M665.5 32.2h0M674.7 33.7h0M668.8 34.5h0M674.3 30.0h0M667.2 34.3h0M660.1 32.3h0M656.1 31.1h0M662.5 30.5h0M660.0 35.3h0M665.9 32.9h0M674.0 33.3h0M674.6 33.7h0M671.0 30.4h0M666.8 34.4h0M656.0 35.5h0M658.2 32.7h0M658.4 32.9h0M667.1 30.2h0M673.6 32.4h0M665.4 33.5h0M662.3 31.6h0M667.9 33.3h0M660.7 34.2h0M660.9 30.0h0M659.9 30.2h0M658.2 34.4h0M662.7 35.3h0M669.8 30.2h0M674.5 35.5h0M656.5 35.3h0M663.5 32.8h0M674.2 31.4h0M665.4 35.5h0M669.3 32.7h0M674.3 34.8h0M666.9 30.6h0M667.3 32.6h0M659.1 30.2h0M665.4 30.6h0M663.8 33.9h0M664.0 31.5h0M666.5 32.4h0M670.3 33.1h0M674.6 35.6h0M669.5 31.3h0M657.3 35.2h0M670.5 33.6h0M662.1 31.5h0M668.5 33.3h0M666.7 33.7h0M669.9 31.0h0M660.0 35.8h0M673.0 35.2h0M655.9 30.3h0M660.4 32.4h0M667.3 30.5h0M665.7 30.3h0M656.8 33.9h0M665.9 33.7h0M662.4 32.8h0M659.2 32.0h0M669.7 34.9h0M656.6 30.6h0M671.0 33.6h0M670.2 31.2h0M663.4 31.4h0M671.0 32.1h0M667.9 35.8h0M661.5 33.2h0M669.7 35.4h0M663.5 32.1h0M657.0 35.1h0M656.6 30.4h0M666.2 32.8h0M668.5 31.7h0M670.3 30.4h0M659.3 33.9h0M656.7 31.7h0M669.3 34.1h0M660.6 30.8h0M662.1 34.2h0M662.3 30.6h0M669.0 33.3h0M673.1 35.5h0M673.0 32.5h0M670.8 31.7h0M661.3 32.3h0M673.4 35.3h0M660.0 32.1h0M662.3 32.1h0M662.9 32.2h0M658.9 33.3h0M670.7 33.1h0M671.5 33.3h0M658.6 34.4h0M672.4 31.6h0M655.5 33.0h0M665.8 33.3h0M674.0 33.8h0M670.9 30.3h0M665.8 34.6h0M656.7 30.4h0M669.5 35.3h0M656.8 33.7h0M667.2 52.1h0M669.7 41.2h0M667.6 52.5h0M669.1 52.5h0M668.5 43.2h0M671.3 50.5h0M668.9 47.6h0M670.1 51.3h0M671.0 44.8h0M670.6 50.4h0M670.7 53.4h0M670.6 55.2h0M671.2 49.8h0M669.1 51.3h0M670.5 45.1h0M668.6 39.1h0M670.2 57.4h0M668.4 39.5h0M667.5 45.1h0M668.0 57.0h0M666.8 42.6h0M667.1 50.0h0M670.3 39.8h0M666.8 45.9h0M669.4 55.7h0M666.7 38.2h0M667.4 40.6h0M667.7 51.5h0M669.4 40.8h0M667.4 42.0h0M667.4 52.4h0M668.1 47.8h0M670.5 46.3h0M667.8 55.2h0M671.0 43.3h0M669.2 56.7h0M668.9 40.7h0M666.8 56.5h0M670.5 44.3h0M669.1 47.1h0M667.9 57.4h0M669.7 41.1h0M666.6 46.2h0M668.3 53.2h0M670.0 49.1h0M667.3 39.3h0M668.1 41.5h0M670.8 47.1h0M669.6 57.5h0M667.8 47.5h0M667.3 52.6h0M666.5 53.8h0M670.7 53.8h0M666.9 41.8h0M670.0 38.0h0M668.9 46.1h0M671.2 48.6h0M670.7 42.5h0M670.4 45.0h0M671.0 37.9h0M670.6 40.4h0M669.2 47.3h0M667.3 54.0h0M668.1 42.6h0M666.9 42.5h0M668.8 51.4h0M668.3 50.8h0M667.0 44.5h0M668.8 56.9h0M670.6 50.1h0M642.9 30.6h0M667.4 30.0h0M662.2 30.9h0M642.9 33.2h0M670.5 29.9h0M664.1 30.2h0M655.7 31.3h0M652.9 30.4h0M656.2 31.8h0M651.5 29.8h0M668.1 30.4h0M675.6 31.4h0M667.8 30.4h0M671.4 29.4h0M647.4 29.4h0M666.2 32.0h0M648.8 30.7h0M671.8 31.5h0M645.7 30.0h0M648.0 29.5h0M656.7 29.3h0M674.7 30.8h0M660.4 31.7h0M669.3 32.4h0M656.0 30.4h0M656.9 29.1h0M656.5 31.9h0M676.9 32.3h0M665.6 31.6h0M643.1 30.4h0M654.5 31.7h0M646.2 30.6h0M660.3 32.3h0M671.4 31.6h0M648.0 32.2h0M674.1 31.3h0M654.8 31.1h0M647.5 32.0h0M677.0 31.2h0M667.5 32.5h0M649.4 33.0h0M664.4 29.8h0M645.4 30.0h0M662.7 31.9h0M654.0 32.9h0M655.1 30.9h0M646.8 33.1h0M647.2 32.8h0M661.5 31.4h0M662.1 30.1h0M674.3 33.2h0M671.1 31.5h0M646.8 32.5h0M652.6 32.8h0M650.9 31.4h0M671.6 29.8h0M661.7 29.3h0M643.6 29.8h0M677.0 32.9h0M665.5 30.3h0M666.0 32.1h0M655.9 31.5h0M670.6 29.1h0M649.5 31.0h0M647.5 30.6h0M662.4 29.7h0M660.7 30.1h0M662.4 30.4h0M665.0 29.2h0M666.0 29.6h0M676.1 31.5h0M658.9 30.7h0M664.3 31.9h0M669.0 32.2h0M659.5 33.2h0M671.8 32.6h0M656.8 30.8h0M662.3 32.8h0M660.9 31.2h0M657.6 32.8h0M653.7 29.2h0M667.9 32.8h0M668.1 31.5h0M668.8 30.3h0M663.3 29.3h0M646.9 30.9h0M660.1 30.7h0M644.3 31.9h0M660.9 30.0h0M653.2 30.7h0M650.8 29.3h0M674.4 33.1h0M665.8 32.6h0M657.2 32.4h0M650.3 32.1h0M662.3 32.8h0M645.9 32.3h0M646.8 31.3h0M675.8 29.0h0M651.0 30.3h0M653.9 29.3h0M673.8 32.4h0M656.4 30.5h0M663.0 29.2h0M643.6 32.8h0M653.3 31.1h0M675.2 33.1h0M659.0 29.9h0M652.8 32.9h0M673.9 29.8h0M671.8 30.5h0M659.0 29.7h0M673.3 33.2h0M649.6 31.7h0M649.2 32.7h0M644.3 29.4h0M667.9 30.3h0M674.0 32.7h0M667.5 29.6h0M666.9 32.9h0M658.1 29.3h0M650.3 30.3h0M667.4 29.8h0M648.8 30.0h0M665.8 32.3h0M655.5 31.8h0M673.5 31.5h0M650.5 30.3h0M674.9 31.8h0M652.2 31.7h0M645.6 33.1h0M657.9 31.2h0M636.2 29.2h0M637.1 30.2h0M632.4 32.4h0M630.2 30.2h0M639.2 30.0h0M632.8 31.3h0M631.5 32.8h0M642.3 29.1h0M635.2 32.2h0M634.2 32.9h0M635.7 29.8h0M636.5 31.7h0M633.9 31.8h0M639.6 31.2h0M635.8 32.6h0M638.2 31.2h0M641.8 29.7h0M639.5 29.7h0M637.2 30.0h0M634.9 32.2h0M639.6 32.3h0M632.2 31.1h0M632.0 31.4h0M635.7 29.1h0M637.1 32.0h0M636.7 32.7h0M631.4 29.6h0M629.2 31.1h0M609.2 30.5h0M603.2 31.8h0M596.5 32.2h0M613.9 30.9h0M621.7 29.8h0M599.1 30.1h0M595.5 30.1h0M615.7 30.8h0M603.3 31.1h0M597.1 31.9h0M600.0 29.9h0M599.6 31.4h0M623.1 31.8h0M596.1 30.4h0M606.8 29.8h0M628.0 29.1h0M611.1 31.7h0M628.5 29.5h0M609.9 31.6h0M595.4 29.8h0M625.2 29.5h0M607.8 30.0h0M608.9 29.3h0M595.2 32.5h0M620.7 31.6h0M602.0 29.9h0M613.3 29.8h0M610.2 32.3h0M606.7 30.2h0M628.3 31.1h0M595.4 30.4h0" stroke="#1ec81e" stroke-width="1.7" stroke-linecap="round" fill="none"/><path d="M510.5 38.5h0M510.5 42.5h0M510.5 47.5h0M510.5 51.5h0M510.5 52.5h0M510.5 53.5h0M538.5 44.5h0M538.5 52.5h0M561.5 39.5h0M561.5 43.5h0M561.5 50.5h0M582.5 30.5h0M592.5 38.5h0M592.5 41.5h0M592.5 44.5h0M592.5 47.5h0M593.5 39.5h0M593.5 43.5h0M593.5 46.5h0M593.5 51.5h0M594.5 45.5h0M594.5 50.5h0M594.5 53.5h0M594.5 57.5h0M594.5 59.5h0M591.5 57.5h0M591.5 65.5h0M591.5 67.5h0M603.5 38.5h0M603.5 47.5h0M603.5 50.5h0M603.5 61.5h0M609.5 42.5h0M609.5 50.5h0M609.5 54.5h0M609.5 59.5h0M616.5 32.5h0M616.5 33.5h0M616.5 35.5h0M616.5 36.5h0M616.5 38.5h0M616.5 40.5h0M616.5 41.5h0M616.5 43.5h0M616.5 45.5h0M616.5 46.5h0M616.5 48.5h0M616.5 50.5h0M622.5 43.5h0M622.5 46.5h0M622.5 50.5h0M622.5 53.5h0M622.5 57.5h0M622.5 61.5h0M622.5 66.5h0M632.5 31.5h0M632.5 34.5h0M632.5 38.5h0M632.5 41.5h0M632.5 44.5h0M632.5 47.5h0M632.5 51.5h0M632.5 54.5h0M634.5 42.5h0M634.5 45.5h0M636.5 43.5h0M636.5 47.5h0M636.5 52.5h0M655.5 38.5h0M655.5 41.5h0M657.5 39.5h0M657.5 43.5h0M657.5 50.5h0M662.5 41.5h0M662.5 46.5h0M662.5 51.5h0M662.5 56.5h0M662.5 59.5h0M662.5 64.5h0M662.5 68.5h0M652.5 52.5h0M652.5 56.5h0M652.5 60.5h0M650.5 57.5h0M650.5 62.5h0M650.5 68.5h0M658.5 55.5h0M658.5 58.5h0M658.5 66.5h0M664.5 53.5h0M664.5 60.5h0M664.5 65.5h0M664.5 70.5h0M673.5 41.5h0M673.5 44.5h0M673.5 51.5h0M673.5 54.5h0M673.5 57.5h0M673.5 60.5h0M673.5 66.5h0M674.5 52.5h0M674.5 63.5h0M510.5 88.5h0M510.5 101.5h0M510.5 113.5h0M538.5 86.5h0M538.5 104.5h0M566.5 105.5h0M566.5 111.5h0M566.5 113.5h0M579.5 73.5h0M579.5 74.5h0M579.5 98.5h0M579.5 102.5h0M581.5 112.5h0M581.5 118.5h0M581.5 120.5h0M591.5 81.5h0M591.5 87.5h0M591.5 104.5h0M593.5 73.5h0M593.5 74.5h0M593.5 77.5h0M594.5 112.5h0M594.5 116.5h0M594.5 118.5h0M594.5 120.5h0M603.5 81.5h0M605.5 78.5h0M605.5 93.5h0M608.5 114.5h0M617.5 76.5h0M617.5 77.5h0M617.5 83.5h0M617.5 87.5h0M617.5 93.5h0M617.5 99.5h0M617.5 108.5h0M617.5 111.5h0M617.5 112.5h0M617.5 114.5h0M622.5 86.5h0M622.5 101.5h0M623.5 99.5h0M623.5 100.5h0M623.5 101.5h0M623.5 111.5h0M623.5 112.5h0M623.5 114.5h0M632.5 81.5h0M632.5 119.5h0M629.5 110.5h0M646.5 73.5h0M646.5 74.5h0M646.5 89.5h0M646.5 109.5h0M646.5 118.5h0M646.5 120.5h0M648.5 89.5h0M648.5 96.5h0M648.5 98.5h0M648.5 100.5h0M648.5 109.5h0M648.5 111.5h0M648.5 113.5h0M648.5 118.5h0M648.5 120.5h0M651.5 76.5h0M651.5 78.5h0M651.5 85.5h0M651.5 97.5h0M651.5 109.5h0M651.5 116.5h0M653.5 76.5h0M653.5 85.5h0M653.5 97.5h0M653.5 109.5h0M657.5 80.5h0M657.5 81.5h0M657.5 83.5h0M657.5 87.5h0M657.5 90.5h0M658.5 83.5h0M661.5 82.5h0M661.5 86.5h0M661.5 108.5h0M663.5 93.5h0M663.5 94.5h0M663.5 96.5h0M671.5 77.5h0M671.5 99.5h0M671.5 102.5h0M673.5 79.5h0M673.5 90.5h0M562.5 143.5h0M562.5 144.5h0M562.5 147.5h0M562.5 148.5h0M562.5 150.5h0M562.5 151.5h0M562.5 156.5h0M562.5 158.5h0M562.5 160.5h0M562.5 162.5h0M566.5 123.5h0M566.5 126.5h0M566.5 129.5h0M566.5 136.5h0M566.5 146.5h0M566.5 149.5h0M566.5 153.5h0M566.5 159.5h0M580.5 121.5h0M580.5 134.5h0M580.5 157.5h0M581.5 134.5h0M591.5 159.5h0M593.5 142.5h0M593.5 149.5h0M593.5 161.5h0M594.5 122.5h0M605.5 142.5h0M605.5 150.5h0M608.5 147.5h0M613.5 129.5h0M613.5 144.5h0M613.5 147.5h0M616.5 121.5h0M616.5 122.5h0M616.5 154.5h0M619.5 123.5h0M619.5 155.5h0M622.5 127.5h0M622.5 131.5h0M622.5 135.5h0M622.5 138.5h0M623.5 127.5h0M623.5 131.5h0M623.5 135.5h0M623.5 138.5h0M634.5 122.5h0M634.5 127.5h0M638.5 131.5h0M638.5 145.5h0M649.5 146.5h0M651.5 149.5h0M652.5 145.5h0M652.5 159.5h0M658.5 129.5h0M658.5 154.5h0M668.5 122.5h0M668.5 124.5h0M668.5 127.5h0M668.5 130.5h0M668.5 146.5h0M668.5 148.5h0M668.5 162.5h0M672.5 122.5h0M672.5 125.5h0M673.5 123.5h0M666.5 126.5h0M670.5 128.5h0M670.5 141.5h0" stroke="#c8f2c8" stroke-width="2.3" stroke-linecap="round" fill="none"/><path d="M510.5 38.5h0M510.5 42.5h0M510.5 47.5h0M510.5 51.5h0M510.5 52.5h0M510.5 53.5h0M538.5 44.5h0M538.5 52.5h0M561.5 39.5h0M561.5 43.5h0M561.5 50.5h0M582.5 30.5h0M592.5 38.5h0M592.5 41.5h0M592.5 44.5h0M592.5 47.5h0M593.5 39.5h0M593.5 43.5h0M593.5 46.5h0M593.5 51.5h0M594.5 45.5h0M594.5 50.5h0M594.5 53.5h0M594.5 57.5h0M594.5 59.5h0M591.5 57.5h0M591.5 65.5h0M591.5 67.5h0M603.5 38.5h0M603.5 47.5h0M603.5 50.5h0M603.5 61.5h0M609.5 42.5h0M609.5 50.5h0M609.5 54.5h0M609.5 59.5h0M616.5 32.5h0M616.5 33.5h0M616.5 35.5h0M616.5 36.5h0M616.5 38.5h0M616.5 40.5h0M616.5 41.5h0M616.5 43.5h0M616.5 45.5h0M616.5 46.5h0M616.5 48.5h0M616.5 50.5h0M622.5 43.5h0M622.5 46.5h0M622.5 50.5h0M622.5 53.5h0M622.5 57.5h0M622.5 61.5h0M622.5 66.5h0M632.5 31.5h0M632.5 34.5h0M632.5 38.5h0M632.5 41.5h0M632.5 44.5h0M632.5 47.5h0M632.5 51.5h0M632.5 54.5h0M634.5 42.5h0M634.5 45.5h0M636.5 43.5h0M636.5 47.5h0M636.5 52.5h0M655.5 38.5h0M655.5 41.5h0M657.5 39.5h0M657.5 43.5h0M657.5 50.5h0M662.5 41.5h0M662.5 46.5h0M662.5 51.5h0M662.5 56.5h0M662.5 59.5h0M662.5 64.5h0M662.5 68.5h0M652.5 52.5h0M652.5 56.5h0M652.5 60.5h0M650.5 57.5h0M650.5 62.5h0M650.5 68.5h0M658.5 55.5h0M658.5 58.5h0M658.5 66.5h0M664.5 53.5h0M664.5 60.5h0M664.5 65.5h0M664.5 70.5h0M673.5 41.5h0M673.5 44.5h0M673.5 51.5h0M673.5 54.5h0M673.5 57.5h0M673.5 60.5h0M673.5 66.5h0M674.5 52.5h0M674.5 63.5h0M510.5 88.5h0M510.5 101.5h0M510.5 113.5h0M538.5 86.5h0M538.5 104.5h0M566.5 105.5h0M566.5 111.5h0M566.5 113.5h0M579.5 73.5h0M579.5 74.5h0M579.5 98.5h0M579.5 102.5h0M581.5 112.5h0M581.5 118.5h0M581.5 120.5h0M591.5 81.5h0M591.5 87.5h0M591.5 104.5h0M593.5 73.5h0M593.5 74.5h0M593.5 77.5h0M594.5 112.5h0M594.5 116.5h0M594.5 118.5h0M594.5 120.5h0M603.5 81.5h0M605.5 78.5h0M605.5 93.5h0M608.5 114.5h0M617.5 76.5h0M617.5 77.5h0M617.5 83.5h0M617.5 87.5h0M617.5 93.5h0M617.5 99.5h0M617.5 108.5h0M617.5 111.5h0M617.5 112.5h0M617.5 114.5h0M622.5 86.5h0M622.5 101.5h0M623.5 99.5h0M623.5 100.5h0M623.5 101.5h0M623.5 111.5h0M623.5 112.5h0M623.5 114.5h0M632.5 81.5h0M632.5 119.5h0M629.5 110.5h0M646.5 73.5h0M646.5 74.5h0M646.5 89.5h0M646.5 109.5h0M646.5 118.5h0M646.5 120.5h0M648.5 89.5h0M648.5 96.5h0M648.5 98.5h0M648.5 100.5h0M648.5 109.5h0M648.5 111.5h0M648.5 113.5h0M648.5 118.5h0M648.5 120.5h0M651.5 76.5h0M651.5 78.5h0M651.5 85.5h0M651.5 97.5h0M651.5 109.5h0M651.5 116.5h0M653.5 76.5h0M653.5 85.5h0M653.5 97.5h0M653.5 109.5h0M657.5 80.5h0M657.5 81.5h0M657.5 83.5h0M657.5 87.5h0M657.5 90.5h0M658.5 83.5h0M661.5 82.5h0M661.5 86.5h0M661.5 108.5h0M663.5 93.5h0M663.5 94.5h0M663.5 96.5h0M671.5 77.5h0M671.5 99.5h0M671.5 102.5h0M673.5 79.5h0M673.5 90.5h0M562.5 143.5h0M562.5 144.5h0M562.5 147.5h0M562.5 148.5h0M562.5 150.5h0M562.5 151.5h0M562.5 156.5h0M562.5 158.5h0M562.5 160.5h0M562.5 162.5h0M566.5 123.5h0M566.5 126.5h0M566.5 129.5h0M566.5 136.5h0M566.5 146.5h0M566.5 149.5h0M566.5 153.5h0M566.5 159.5h0M580.5 121.5h0M580.5 134.5h0M580.5 157.5h0M581.5 134.5h0M591.5 159.5h0M593.5 142.5h0M593.5 149.5h0M593.5 161.5h0M594.5 122.5h0M605.5 142.5h0M605.5 150.5h0M608.5 147.5h0M613.5 129.5h0M613.5 144.5h0M613.5 147.5h0M616.5 121.5h0M616.5 122.5h0M616.5 154.5h0M619.5 123.5h0M619.5 155.5h0M622.5 127.5h0M622.5 131.5h0M622.5 135.5h0M622.5 138.5h0M623.5 127.5h0M623.5 131.5h0M623.5 135.5h0M623.5 138.5h0M634.5 122.5h0M634.5 127.5h0M638.5 131.5h0M638.5 145.5h0M649.5 146.5h0M651.5 149.5h0M652.5 145.5h0M652.5 159.5h0M658.5 129.5h0M658.5 154.5h0M668.5 122.5h0M668.5 124.5h0M668.5 127.5h0M668.5 130.5h0M668.5 146.5h0M668.5 148.5h0M668.5 162.5h0M672.5 122.5h0M672.5 125.5h0M673.5 123.5h0M666.5 126.5h0M670.5 128.5h0M670.5 141.5h0" stroke="#4b8a58" stroke-width="1.3" stroke-linecap="round" fill="none"/><line x1="507.10" y1="168.60" x2="680.70" y2="25.00" stroke="#7c7c7c" stroke-width="0.85"/><rect x="507.50" y="25.50" width="173.00" height="143.00" fill="none" stroke="#8e8e8e" stroke-width="1"/><line x1="513.53" y1="168.60" x2="513.53" y2="174.20" stroke="#8e8e8e" stroke-width="1"/><line x1="501.50" y1="163.28" x2="507.10" y2="163.28" stroke="#8e8e8e" stroke-width="1"/><text transform="translate(513.53,187.10) scale(1,1.15)" text-anchor="middle" font-size="8" class="t">0.980</text><text transform="translate(495.40,163.28) rotate(-90) scale(1,1.18)" text-anchor="middle" font-size="8.0" class="t">0.980</text><line x1="553.71" y1="168.60" x2="553.71" y2="174.20" stroke="#8e8e8e" stroke-width="1"/><line x1="501.50" y1="130.04" x2="507.10" y2="130.04" stroke="#8e8e8e" stroke-width="1"/><text transform="translate(553.71,187.10) scale(1,1.15)" text-anchor="middle" font-size="8" class="t">0.985</text><text transform="translate(495.40,130.04) rotate(-90) scale(1,1.18)" text-anchor="middle" font-size="8.0" class="t">0.985</text><line x1="593.90" y1="168.60" x2="593.90" y2="174.20" stroke="#8e8e8e" stroke-width="1"/><line x1="501.50" y1="96.80" x2="507.10" y2="96.80" stroke="#8e8e8e" stroke-width="1"/><text transform="translate(593.90,187.10) scale(1,1.15)" text-anchor="middle" font-size="8" class="t">0.990</text><text transform="translate(495.40,96.80) rotate(-90) scale(1,1.18)" text-anchor="middle" font-size="8.0" class="t">0.990</text><line x1="634.09" y1="168.60" x2="634.09" y2="174.20" stroke="#8e8e8e" stroke-width="1"/><line x1="501.50" y1="63.56" x2="507.10" y2="63.56" stroke="#8e8e8e" stroke-width="1"/><text transform="translate(634.09,187.10) scale(1,1.15)" text-anchor="middle" font-size="8" class="t">0.995</text><text transform="translate(495.40,63.56) rotate(-90) scale(1,1.18)" text-anchor="middle" font-size="8.0" class="t">0.995</text><line x1="674.27" y1="168.60" x2="674.27" y2="174.20" stroke="#8e8e8e" stroke-width="1"/><line x1="501.50" y1="30.32" x2="507.10" y2="30.32" stroke="#8e8e8e" stroke-width="1"/><text transform="translate(674.27,187.10) scale(1,1.15)" text-anchor="middle" font-size="8" class="t">1.000</text><text transform="translate(495.40,30.32) rotate(-90) scale(1,1.18)" text-anchor="middle" font-size="8.0" class="t">1.000</text><text transform="translate(476.10,96.80) rotate(-90) scale(1,1.2)" text-anchor="middle" font-size="8" class="t">Quantitative</text><g transform="translate(557.10,203.80) scale(1,1.116)" class="t"><text x="0" y="0" font-size="8.45">Perturbed, error =</text><text x="68.9" y="0" font-size="7">&#949;</text><text x="68.4" y="-1.6" font-size="7.5">^</text><text x="71.9" y="1.6" font-size="5">j</text></g><text transform="translate(579.90,8.90) scale(1,0.95)" text-anchor="middle" font-size="10" font-weight="bold" class="tb">Genotype Probability</text><text transform="translate(472.70,13.50) scale(1.07,1.05)" font-size="17.4" font-weight="bold" class="tl">C</text></g><g><rect x="193.0" y="263.6" width="1.6" height="3.2" fill="#1ec81e" fill-opacity="0.75"/><rect x="196.8" y="263.6" width="1.6" height="3.2" fill="#1ec81e" fill-opacity="0.85"/><rect x="200.0" y="263.6" width="6.0" height="3.2" fill="#1ec81e" fill-opacity="1.0"/><rect x="43.7" y="393.8" width="4.8" height="3.8" fill="#1ec81e" fill-opacity="1.0"/><rect x="48.7" y="393.8" width="2.8" height="3.8" fill="#1ec81e" fill-opacity="0.85"/><line x1="38.20" y1="402.10" x2="211.80" y2="258.50" stroke="#7c7c7c" stroke-width="0.85"/><rect x="38.50" y="258.50" width="173.00" height="144.00" fill="none" stroke="#8e8e8e" stroke-width="1"/><line x1="44.63" y1="402.10" x2="44.63" y2="407.70" stroke="#8e8e8e" stroke-width="1"/><line x1="32.60" y1="396.78" x2="38.20" y2="396.78" stroke="#8e8e8e" stroke-width="1"/><text transform="translate(44.63,420.60) scale(1,1.15)" text-anchor="middle" font-size="8" class="t">0.0</text><text transform="translate(26.50,396.78) rotate(-90) scale(1,1.18)" text-anchor="middle" font-size="8.0" class="t">0.0</text><line x1="76.78" y1="402.10" x2="76.78" y2="407.70" stroke="#8e8e8e" stroke-width="1"/><line x1="32.60" y1="370.19" x2="38.20" y2="370.19" stroke="#8e8e8e" stroke-width="1"/><text transform="translate(76.78,420.60) scale(1,1.15)" text-anchor="middle" font-size="8" class="t">0.2</text><text transform="translate(26.50,370.19) rotate(-90) scale(1,1.18)" text-anchor="middle" font-size="8.0" class="t">0.2</text><line x1="108.93" y1="402.10" x2="108.93" y2="407.70" stroke="#8e8e8e" stroke-width="1"/><line x1="32.60" y1="343.60" x2="38.20" y2="343.60" stroke="#8e8e8e" stroke-width="1"/><text transform="translate(108.93,420.60) scale(1,1.15)" text-anchor="middle" font-size="8" class="t">0.4</text><text transform="translate(26.50,343.60) rotate(-90) scale(1,1.18)" text-anchor="middle" font-size="8.0" class="t">0.4</text><line x1="141.07" y1="402.10" x2="141.07" y2="407.70" stroke="#8e8e8e" stroke-width="1"/><line x1="32.60" y1="317.00" x2="38.20" y2="317.00" stroke="#8e8e8e" stroke-width="1"/><text transform="translate(141.07,420.60) scale(1,1.15)" text-anchor="middle" font-size="8" class="t">0.6</text><text transform="translate(26.50,317.00) rotate(-90) scale(1,1.18)" text-anchor="middle" font-size="8.0" class="t">0.6</text><line x1="173.22" y1="402.10" x2="173.22" y2="407.70" stroke="#8e8e8e" stroke-width="1"/><line x1="32.60" y1="290.41" x2="38.20" y2="290.41" stroke="#8e8e8e" stroke-width="1"/><text transform="translate(173.22,420.60) scale(1,1.15)" text-anchor="middle" font-size="8" class="t">0.8</text><text transform="translate(26.50,290.41) rotate(-90) scale(1,1.18)" text-anchor="middle" font-size="8.0" class="t">0.8</text><line x1="205.37" y1="402.10" x2="205.37" y2="407.70" stroke="#8e8e8e" stroke-width="1"/><line x1="32.60" y1="263.82" x2="38.20" y2="263.82" stroke="#8e8e8e" stroke-width="1"/><text transform="translate(205.37,420.60) scale(1,1.15)" text-anchor="middle" font-size="8" class="t">1.0</text><text transform="translate(26.50,263.82) rotate(-90) scale(1,1.18)" text-anchor="middle" font-size="8.0" class="t">1.0</text><text transform="translate(7.20,330.30) rotate(-90) scale(1,1.2)" text-anchor="middle" font-size="8" class="t">Quantitative</text><g transform="translate(88.20,437.70) scale(1,1.116)" class="t"><text x="0" y="0" font-size="8.45">Perturbed, error =</text><text x="68.9" y="0" font-size="7">&#949;</text><path d="M69.00,-4.6 q0.8,-1.1 1.6,-0.4 t1.6,-0.4" fill="none" stroke="#222" stroke-width="0.95"/><text x="71.9" y="1.6" font-size="5">j</text></g><text transform="translate(109.00,242.40) scale(1,0.95)" text-anchor="middle" font-size="10" font-weight="bold" class="tb">Genotype Probability</text><text transform="translate(3.80,247.00) scale(1.07,1.05)" font-size="17.4" font-weight="bold" class="tl">D</text></g><g><rect x="278.0" y="392.2" width="53.0" height="5.6" fill="#1ec81e" fill-opacity="1.0"/><line x1="379.0" y1="291.2" x2="379.0" y2="294.5" stroke="#1ec81e" stroke-width="1.6" stroke-dasharray="1.4 0.8"/><line x1="379.0" y1="298.3" x2="379.0" y2="303.2" stroke="#1ec81e" stroke-width="1.6" stroke-dasharray="1.4 0.8"/><line x1="379.0" y1="310.4" x2="379.0" y2="347.9" stroke="#1ec81e" stroke-width="1.8" stroke-dasharray="1.4 0.8"/><line x1="279.1" y1="354.0" x2="279.1" y2="364.9" stroke="#1ec81e" stroke-width="1.8" stroke-dasharray="1.4 0.8"/><line x1="327.5" y1="354.0" x2="327.5" y2="391.5" stroke="#1ec81e" stroke-width="1.5" stroke-dasharray="1.4 0.8"/><line x1="330.9" y1="354.0" x2="330.9" y2="397.5" stroke="#1ec81e" stroke-width="1.3" stroke-dasharray="1.4 0.8"/><line x1="340.9" y1="388.8" x2="340.9" y2="397.5" stroke="#1ec81e" stroke-width="1.5" stroke-dasharray="1.4 0.8"/><line x1="347.4" y1="366.0" x2="347.4" y2="397.5" stroke="#1ec81e" stroke-width="1.8" stroke-dasharray="1.4 0.8"/><line x1="365.9" y1="354.0" x2="365.9" y2="397.5" stroke="#1ec81e" stroke-width="1.4" stroke-dasharray="1.4 0.8"/><path d="M312.4 388.7h0M296.2 391.1h0M323.8 390.7h0M325.0 390.2h0M298.8 391.6h0M298.2 391.4h0M289.4 389.8h0M287.7 390.5h0M286.7 389.3h0M289.4 390.2h0M294.4 390.2h0M330.6 391.0h0M323.7 389.3h0M298.3 388.8h0M314.6 389.8h0M292.5 388.6h0M287.6 389.5h0M298.8 391.9h0M315.9 389.5h0M297.1 389.1h0M327.6 389.8h0M318.6 391.2h0M326.1 388.6h0M295.1 389.9h0M282.4 391.8h0M295.2 391.4h0M305.5 388.7h0M298.9 389.4h0M280.2 389.1h0M309.6 388.6h0M294.6 390.1h0M306.8 389.0h0M315.5 389.5h0M316.5 391.0h0M285.8 389.3h0M292.9 391.1h0M299.5 389.9h0M323.9 389.3h0M293.5 389.8h0M289.4 388.7h0M279.3 390.8h0M308.0 391.5h0M329.7 389.6h0M313.5 391.9h0M289.5 391.1h0M313.3 392.0h0M324.0 389.4h0M311.5 388.8h0M300.7 390.0h0M281.2 389.9h0M295.4 390.3h0M292.8 389.1h0M299.3 390.3h0M286.8 391.0h0M290.7 388.8h0M296.1 390.1h0M286.0 390.7h0M315.2 390.5h0M315.1 388.6h0M298.7 389.8h0M281.3 390.0h0M280.9 390.3h0M309.1 390.2h0M295.3 389.4h0M279.2 389.8h0M325.3 390.6h0M291.9 391.0h0M287.9 390.2h0M310.6 392.0h0M297.2 390.6h0M327.9 391.4h0M311.2 390.8h0M299.8 390.0h0M292.6 391.6h0M324.6 389.9h0M326.2 388.6h0M285.2 390.4h0M294.4 389.8h0M329.8 389.1h0M288.2 389.3h0M314.0 389.4h0M278.0 390.5h0M298.9 389.4h0M304.2 390.9h0M307.1 390.8h0M307.7 391.6h0M329.3 389.7h0M296.4 391.8h0M294.6 391.1h0M314.9 391.0h0M329.1 391.6h0M286.5 390.8h0M304.0 390.6h0M297.6 389.6h0M317.7 390.5h0M290.6 389.4h0M295.2 389.2h0M305.2 389.0h0M278.0 334.1h0M278.1 372.3h0M278.1 357.1h0M279.3 358.8h0M278.2 382.0h0M279.5 333.2h0M278.4 360.4h0M279.3 353.5h0M279.2 345.1h0M279.2 349.6h0M278.5 375.6h0M279.4 379.7h0M278.9 355.2h0M279.2 367.4h0M279.4 378.1h0M278.1 352.6h0M279.1 343.9h0M278.2 330.8h0M279.0 386.5h0M279.6 338.0h0M279.1 355.2h0M279.0 353.8h0M279.6 389.3h0M278.0 372.8h0M278.1 332.5h0M278.4 373.9h0M279.7 337.2h0M278.5 331.6h0M278.9 359.0h0M278.6 348.6h0M279.3 380.3h0M278.4 353.5h0M284.8 374.7h0M285.5 350.3h0M284.9 360.5h0M285.1 334.5h0M284.0 332.0h0M285.4 341.3h0M284.6 332.8h0M284.3 326.3h0M284.7 334.3h0M284.8 342.8h0M284.1 356.3h0M284.4 341.9h0M283.8 329.2h0M285.3 345.1h0M283.8 336.9h0M284.6 389.8h0M284.1 381.4h0M284.6 351.9h0M285.2 350.7h0M283.8 360.8h0M284.9 365.5h0M284.2 386.0h0M285.3 389.6h0M284.5 379.2h0M285.0 336.4h0M283.7 336.0h0M283.9 329.9h0M284.3 374.0h0M284.3 358.4h0M283.7 338.7h0M285.4 325.7h0M284.6 377.7h0M285.1 372.8h0M284.4 377.2h0M285.2 374.9h0M285.9 374.4h0M285.8 380.1h0M285.0 377.3h0M285.6 372.9h0M284.6 376.8h0M284.1 379.5h0M284.9 387.9h0M284.0 384.6h0M284.0 377.8h0M285.6 378.6h0M283.2 378.9h0M285.1 376.5h0M285.1 382.9h0M284.9 375.9h0M283.2 375.2h0M284.0 380.7h0M282.9 382.0h0M284.1 378.6h0M284.5 390.6h0M283.5 389.2h0M283.9 386.8h0M283.2 391.3h0M284.2 390.8h0M283.6 380.3h0M285.0 375.9h0M283.7 385.4h0M285.7 378.6h0M283.5 379.3h0M298.6 387.3h0M296.5 388.5h0M296.6 387.6h0M296.4 390.9h0M297.8 389.7h0M295.7 389.4h0M293.4 390.7h0M296.8 388.8h0M296.7 388.7h0M295.0 387.7h0M296.3 389.4h0M295.8 386.8h0M296.5 388.8h0M296.3 389.5h0M298.3 387.3h0M302.9 391.4h0M304.0 378.4h0M304.0 391.3h0M302.6 389.0h0M301.4 391.3h0M303.0 376.9h0M304.5 384.8h0M304.9 388.3h0M304.3 382.2h0M305.2 373.7h0M304.6 386.0h0M301.9 387.8h0M302.8 382.7h0M304.6 376.2h0M302.0 384.7h0M301.1 383.0h0M304.3 381.8h0M301.9 387.7h0M304.6 387.1h0M303.2 389.7h0M304.3 375.4h0M302.4 374.4h0M301.0 379.1h0M304.6 388.3h0M301.3 376.0h0M302.5 388.6h0M303.5 389.6h0M301.1 391.3h0M301.7 384.5h0M313.2 384.3h0M309.6 382.7h0M310.8 365.3h0M310.3 373.3h0M311.9 372.3h0M311.8 383.4h0M309.5 368.3h0M312.2 377.3h0M309.2 368.0h0M313.6 381.1h0M310.4 370.1h0M313.9 383.3h0M312.5 374.5h0M310.2 375.8h0M309.3 381.7h0M310.8 386.7h0M310.7 377.1h0M311.2 389.9h0M310.4 383.6h0M309.8 380.3h0M310.0 388.1h0M310.0 387.6h0M312.2 377.0h0M313.5 375.2h0M312.5 380.9h0M310.9 366.6h0M317.3 378.6h0M317.4 390.7h0M316.6 386.0h0M318.6 378.0h0M317.2 376.0h0M319.8 378.1h0M317.3 379.7h0M319.4 388.8h0M318.2 383.4h0M315.5 389.6h0M315.5 380.1h0M317.0 386.5h0M318.6 379.8h0M319.8 390.6h0M315.1 384.9h0M317.5 380.1h0M317.5 379.3h0M313.6 372.2h0M329.4 388.9h0M330.6 362.8h0M321.9 374.2h0M315.2 389.9h0M281.5 365.8h0M299.3 374.5h0M289.6 389.5h0M289.1 361.6h0M285.6 362.8h0M317.3 348.8h0M286.8 374.2h0M311.0 378.4h0M291.4 381.5h0M316.7 379.9h0M284.3 366.1h0M278.8 383.7h0M328.1 385.3h0M279.3 360.8h0M306.4 369.0h0M283.9 380.5h0M294.0 367.8h0M284.6 370.6h0M284.9 349.0h0M305.1 358.2h0M319.2 356.1h0M299.9 347.4h0M289.5 365.3h0M307.6 365.7h0M323.1 349.7h0M323.1 352.0h0M329.4 368.6h0M299.5 372.5h0M323.8 388.4h0M299.9 345.5h0M286.1 381.8h0M316.9 377.1h0M286.3 368.9h0M279.5 350.0h0M293.9 388.5h0M312.1 383.1h0M280.4 363.7h0M282.2 356.7h0M283.9 386.3h0M295.4 367.0h0M312.7 384.9h0M328.2 370.6h0M304.6 385.7h0M298.9 358.5h0M317.2 356.6h0M297.5 364.3h0M303.3 361.1h0M300.8 365.3h0M280.6 382.6h0M281.3 368.8h0M307.0 363.0h0M289.8 349.5h0M297.7 359.1h0M303.7 355.4h0M317.7 366.9h0M278.5 363.3h0M329.2 345.3h0M309.4 388.2h0M297.4 371.9h0M297.6 358.6h0M310.3 371.5h0M294.7 367.4h0M305.4 378.9h0M280.8 349.2h0M291.4 357.2h0M320.2 364.1h0M323.6 363.1h0M293.1 375.6h0M282.5 389.3h0M322.1 359.8h0M294.8 381.9h0M319.8 373.9h0M281.0 379.4h0M280.5 373.1h0M307.3 386.7h0M311.9 346.0h0M327.5 378.9h0M308.7 345.3h0M317.1 363.8h0M314.0 389.3h0M326.6 348.4h0M319.4 364.8h0M317.8 362.0h0M301.7 364.7h0M284.3 359.4h0M316.9 348.2h0M284.1 382.5h0M313.3 369.7h0M284.0 350.3h0M294.4 387.9h0M307.7 386.5h0M289.2 363.7h0M306.4 382.8h0M284.5 384.3h0M303.0 346.4h0M300.9 362.0h0M313.7 386.8h0M304.2 376.0h0M298.6 380.0h0M283.6 378.4h0M286.8 371.4h0M288.7 360.6h0M286.7 360.7h0M309.3 368.4h0M298.6 370.8h0M322.6 361.1h0M308.9 366.6h0M330.0 359.8h0M315.0 355.5h0M291.8 377.9h0M308.5 356.6h0M281.4 382.1h0M298.0 377.2h0M300.9 372.8h0M278.7 343.7h0M279.3 315.1h0M278.6 302.7h0M279.0 295.6h0M278.3 336.6h0M277.9 328.4h0M278.7 320.3h0M278.3 298.3h0M279.3 332.1h0M279.1 295.4h0M279.1 302.0h0M283.9 319.4h0M284.6 296.6h0M284.8 322.0h0M285.0 340.8h0M284.7 310.0h0M285.1 329.5h0M284.1 337.2h0M284.8 304.6h0M284.0 291.1h0M284.5 303.9h0M284.1 303.9h0M294.4 316.7h0M294.6 305.7h0M294.6 318.0h0M295.6 298.8h0M295.6 337.0h0M295.2 319.9h0M295.4 319.4h0M295.3 340.6h0M295.4 304.3h0M294.3 341.5h0M294.8 333.3h0M302.6 314.9h0M302.8 330.1h0M303.7 317.8h0M303.1 309.2h0M302.6 342.2h0M302.4 341.7h0M303.3 293.9h0M303.6 295.6h0M303.1 296.6h0M303.8 307.0h0M303.6 293.4h0M314.8 293.7h0M313.7 321.4h0M315.3 327.7h0M315.1 333.2h0M314.5 294.2h0M314.5 300.2h0M314.5 309.5h0M314.5 300.9h0M314.8 313.0h0M314.5 294.3h0M314.5 320.7h0M326.8 320.9h0M325.4 306.5h0M325.7 328.6h0M326.7 343.7h0M326.7 340.9h0M326.6 341.4h0M325.2 316.9h0M326.1 327.7h0M326.2 323.7h0M326.7 294.8h0M326.0 342.8h0M346.4 383.0h0M348.2 396.8h0M346.4 381.7h0M348.1 392.4h0M347.5 390.7h0M348.0 394.4h0M346.3 382.3h0M348.1 397.1h0M348.1 387.9h0M347.1 386.9h0M346.4 393.8h0M346.9 390.8h0M347.5 386.7h0M347.8 388.6h0M346.8 395.6h0M346.7 383.7h0M346.9 389.0h0M348.0 386.6h0" stroke="#1ec81e" stroke-width="1.7" stroke-linecap="round" fill="none"/><path d="M284.5 264.5h0M285.5 270.5h0M305.5 268.5h0M279.5 278.5h0M279.5 282.5h0M284.5 278.5h0M284.5 279.5h0M284.5 281.5h0M290.5 278.5h0M310.5 281.5h0M312.5 282.5h0M315.5 278.5h0M319.5 272.5h0M319.5 280.5h0M319.5 285.5h0M319.5 288.5h0M326.5 267.5h0M326.5 271.5h0M329.5 277.5h0M329.5 284.5h0M302.5 293.5h0M313.5 292.5h0M315.5 296.5h0M279.5 297.5h0M284.5 297.5h0M284.5 299.5h0M284.5 302.5h0M284.5 304.5h0M289.5 299.5h0M288.5 302.5h0M288.5 304.5h0M294.5 296.5h0M294.5 299.5h0M294.5 303.5h0M308.5 299.5h0M308.5 304.5h0M313.5 300.5h0M319.5 305.5h0M326.5 304.5h0M330.5 272.5h0M330.5 297.5h0M341.5 267.5h0M341.5 277.5h0M341.5 284.5h0M348.5 265.5h0M365.5 266.5h0M366.5 293.5h0M365.5 301.5h0M372.5 268.5h0M372.5 270.5h0M372.5 274.5h0M372.5 277.5h0M372.5 280.5h0M372.5 290.5h0M372.5 297.5h0M372.5 300.5h0M372.5 303.5h0M346.5 304.5h0M378.5 265.5h0M378.5 269.5h0M378.5 276.5h0M378.5 278.5h0M378.5 283.5h0M381.5 305.5h0M279.5 307.5h0M279.5 313.5h0M279.5 317.5h0M279.5 318.5h0M279.5 321.5h0M279.5 325.5h0M279.5 326.5h0M279.5 328.5h0M279.5 335.5h0M279.5 336.5h0M279.5 337.5h0M279.5 341.5h0M279.5 343.5h0M279.5 344.5h0M279.5 347.5h0M279.5 350.5h0M279.5 351.5h0M279.5 353.5h0M285.5 307.5h0M285.5 328.5h0M285.5 333.5h0M285.5 336.5h0M285.5 338.5h0M285.5 339.5h0M285.5 341.5h0M285.5 343.5h0M285.5 347.5h0M285.5 350.5h0M285.5 353.5h0M280.5 344.5h0M282.5 340.5h0M287.5 347.5h0M288.5 350.5h0M290.5 314.5h0M290.5 337.5h0M290.5 345.5h0M293.5 325.5h0M293.5 338.5h0M295.5 313.5h0M295.5 327.5h0M295.5 340.5h0M295.5 341.5h0M297.5 334.5h0M297.5 346.5h0M298.5 353.5h0M301.5 344.5h0M303.5 314.5h0M303.5 317.5h0M303.5 327.5h0M303.5 329.5h0M303.5 337.5h0M304.5 308.5h0M304.5 317.5h0M304.5 329.5h0M304.5 331.5h0M304.5 333.5h0M308.5 307.5h0M308.5 335.5h0M308.5 347.5h0M310.5 340.5h0M310.5 347.5h0M310.5 353.5h0M311.5 328.5h0M315.5 311.5h0M315.5 329.5h0M315.5 341.5h0M315.5 348.5h0M317.5 316.5h0M317.5 350.5h0M319.5 308.5h0M319.5 312.5h0M319.5 319.5h0M319.5 330.5h0M319.5 340.5h0M319.5 344.5h0M326.5 311.5h0M326.5 315.5h0M326.5 316.5h0M326.5 322.5h0M326.5 327.5h0M326.5 333.5h0M326.5 340.5h0M326.5 345.5h0M326.5 349.5h0M329.5 348.5h0M346.5 306.5h0M346.5 307.5h0M346.5 308.5h0M346.5 314.5h0M346.5 336.5h0M346.5 337.5h0M346.5 338.5h0M346.5 342.5h0M346.5 353.5h0M348.5 332.5h0M340.5 315.5h0M340.5 335.5h0M340.5 343.5h0M340.5 344.5h0M340.5 350.5h0M340.5 352.5h0M330.5 341.5h0M366.5 309.5h0M366.5 320.5h0M366.5 325.5h0M366.5 327.5h0M366.5 341.5h0M372.5 307.5h0M372.5 313.5h0M372.5 315.5h0M372.5 322.5h0M372.5 329.5h0M372.5 333.5h0M372.5 337.5h0M372.5 340.5h0M372.5 344.5h0M372.5 346.5h0M372.5 348.5h0M372.5 350.5h0M340.5 374.5h0M340.5 377.5h0M340.5 380.5h0M340.5 383.5h0M340.5 386.5h0M358.5 396.5h0M371.5 389.5h0M371.5 393.5h0M371.5 394.5h0M371.5 396.5h0M379.5 394.5h0M379.5 396.5h0M330.5 354.5h0M428.5 314.5h0M428.5 384.5h0M428.5 393.5h0M428.5 396.5h0" stroke="#c8f2c8" stroke-width="2.3" stroke-linecap="round" fill="none"/><path d="M284.5 264.5h0M285.5 270.5h0M305.5 268.5h0M279.5 278.5h0M279.5 282.5h0M284.5 278.5h0M284.5 279.5h0M284.5 281.5h0M290.5 278.5h0M310.5 281.5h0M312.5 282.5h0M315.5 278.5h0M319.5 272.5h0M319.5 280.5h0M319.5 285.5h0M319.5 288.5h0M326.5 267.5h0M326.5 271.5h0M329.5 277.5h0M329.5 284.5h0M302.5 293.5h0M313.5 292.5h0M315.5 296.5h0M279.5 297.5h0M284.5 297.5h0M284.5 299.5h0M284.5 302.5h0M284.5 304.5h0M289.5 299.5h0M288.5 302.5h0M288.5 304.5h0M294.5 296.5h0M294.5 299.5h0M294.5 303.5h0M308.5 299.5h0M308.5 304.5h0M313.5 300.5h0M319.5 305.5h0M326.5 304.5h0M330.5 272.5h0M330.5 297.5h0M341.5 267.5h0M341.5 277.5h0M341.5 284.5h0M348.5 265.5h0M365.5 266.5h0M366.5 293.5h0M365.5 301.5h0M372.5 268.5h0M372.5 270.5h0M372.5 274.5h0M372.5 277.5h0M372.5 280.5h0M372.5 290.5h0M372.5 297.5h0M372.5 300.5h0M372.5 303.5h0M346.5 304.5h0M378.5 265.5h0M378.5 269.5h0M378.5 276.5h0M378.5 278.5h0M378.5 283.5h0M381.5 305.5h0M279.5 307.5h0M279.5 313.5h0M279.5 317.5h0M279.5 318.5h0M279.5 321.5h0M279.5 325.5h0M279.5 326.5h0M279.5 328.5h0M279.5 335.5h0M279.5 336.5h0M279.5 337.5h0M279.5 341.5h0M279.5 343.5h0M279.5 344.5h0M279.5 347.5h0M279.5 350.5h0M279.5 351.5h0M279.5 353.5h0M285.5 307.5h0M285.5 328.5h0M285.5 333.5h0M285.5 336.5h0M285.5 338.5h0M285.5 339.5h0M285.5 341.5h0M285.5 343.5h0M285.5 347.5h0M285.5 350.5h0M285.5 353.5h0M280.5 344.5h0M282.5 340.5h0M287.5 347.5h0M288.5 350.5h0M290.5 314.5h0M290.5 337.5h0M290.5 345.5h0M293.5 325.5h0M293.5 338.5h0M295.5 313.5h0M295.5 327.5h0M295.5 340.5h0M295.5 341.5h0M297.5 334.5h0M297.5 346.5h0M298.5 353.5h0M301.5 344.5h0M303.5 314.5h0M303.5 317.5h0M303.5 327.5h0M303.5 329.5h0M303.5 337.5h0M304.5 308.5h0M304.5 317.5h0M304.5 329.5h0M304.5 331.5h0M304.5 333.5h0M308.5 307.5h0M308.5 335.5h0M308.5 347.5h0M310.5 340.5h0M310.5 347.5h0M310.5 353.5h0M311.5 328.5h0M315.5 311.5h0M315.5 329.5h0M315.5 341.5h0M315.5 348.5h0M317.5 316.5h0M317.5 350.5h0M319.5 308.5h0M319.5 312.5h0M319.5 319.5h0M319.5 330.5h0M319.5 340.5h0M319.5 344.5h0M326.5 311.5h0M326.5 315.5h0M326.5 316.5h0M326.5 322.5h0M326.5 327.5h0M326.5 333.5h0M326.5 340.5h0M326.5 345.5h0M326.5 349.5h0M329.5 348.5h0M346.5 306.5h0M346.5 307.5h0M346.5 308.5h0M346.5 314.5h0M346.5 336.5h0M346.5 337.5h0M346.5 338.5h0M346.5 342.5h0M346.5 353.5h0M348.5 332.5h0M340.5 315.5h0M340.5 335.5h0M340.5 343.5h0M340.5 344.5h0M340.5 350.5h0M340.5 352.5h0M330.5 341.5h0M366.5 309.5h0M366.5 320.5h0M366.5 325.5h0M366.5 327.5h0M366.5 341.5h0M372.5 307.5h0M372.5 313.5h0M372.5 315.5h0M372.5 322.5h0M372.5 329.5h0M372.5 333.5h0M372.5 337.5h0M372.5 340.5h0M372.5 344.5h0M372.5 346.5h0M372.5 348.5h0M372.5 350.5h0M340.5 374.5h0M340.5 377.5h0M340.5 380.5h0M340.5 383.5h0M340.5 386.5h0M358.5 396.5h0M371.5 389.5h0M371.5 393.5h0M371.5 394.5h0M371.5 396.5h0M379.5 394.5h0M379.5 396.5h0M330.5 354.5h0M428.5 314.5h0M428.5 384.5h0M428.5 393.5h0M428.5 396.5h0" stroke="#4b8a58" stroke-width="1.3" stroke-linecap="round" fill="none"/><line x1="272.60" y1="402.10" x2="446.20" y2="258.50" stroke="#7c7c7c" stroke-width="0.85"/><rect x="272.50" y="258.50" width="174.00" height="144.00" fill="none" stroke="#8e8e8e" stroke-width="1"/><line x1="279.03" y1="402.10" x2="279.03" y2="407.70" stroke="#8e8e8e" stroke-width="1"/><line x1="267.00" y1="396.78" x2="272.60" y2="396.78" stroke="#8e8e8e" stroke-width="1"/><text transform="translate(279.03,420.60) scale(1,1.15)" text-anchor="middle" font-size="8" class="t">0.000</text><text transform="translate(260.90,396.78) rotate(-90) scale(1,1.18)" text-anchor="middle" font-size="8.0" class="t">0.000</text><line x1="319.21" y1="402.10" x2="319.21" y2="407.70" stroke="#8e8e8e" stroke-width="1"/><line x1="267.00" y1="363.54" x2="272.60" y2="363.54" stroke="#8e8e8e" stroke-width="1"/><text transform="translate(319.21,420.60) scale(1,1.15)" text-anchor="middle" font-size="8" class="t">0.005</text><text transform="translate(260.90,363.54) rotate(-90) scale(1,1.18)" text-anchor="middle" font-size="8.0" class="t">0.005</text><line x1="359.40" y1="402.10" x2="359.40" y2="407.70" stroke="#8e8e8e" stroke-width="1"/><line x1="267.00" y1="330.30" x2="272.60" y2="330.30" stroke="#8e8e8e" stroke-width="1"/><text transform="translate(359.40,420.60) scale(1,1.15)" text-anchor="middle" font-size="8" class="t">0.010</text><text transform="translate(260.90,330.30) rotate(-90) scale(1,1.18)" text-anchor="middle" font-size="8.0" class="t">0.010</text><line x1="399.59" y1="402.10" x2="399.59" y2="407.70" stroke="#8e8e8e" stroke-width="1"/><line x1="267.00" y1="297.06" x2="272.60" y2="297.06" stroke="#8e8e8e" stroke-width="1"/><text transform="translate(399.59,420.60) scale(1,1.15)" text-anchor="middle" font-size="8" class="t">0.015</text><text transform="translate(260.90,297.06) rotate(-90) scale(1,1.18)" text-anchor="middle" font-size="8.0" class="t">0.015</text><line x1="439.77" y1="402.10" x2="439.77" y2="407.70" stroke="#8e8e8e" stroke-width="1"/><line x1="267.00" y1="263.82" x2="272.60" y2="263.82" stroke="#8e8e8e" stroke-width="1"/><text transform="translate(439.77,420.60) scale(1,1.15)" text-anchor="middle" font-size="8" class="t">0.020</text><text transform="translate(260.90,263.82) rotate(-90) scale(1,1.18)" text-anchor="middle" font-size="8.0" class="t">0.020</text><text transform="translate(241.60,330.30) rotate(-90) scale(1,1.2)" text-anchor="middle" font-size="8" class="t">Quantitative</text><g transform="translate(322.60,437.70) scale(1,1.116)" class="t"><text x="0" y="0" font-size="8.45">Perturbed, error =</text><text x="68.9" y="0" font-size="7">&#949;</text><path d="M69.00,-4.6 q0.8,-1.1 1.6,-0.4 t1.6,-0.4" fill="none" stroke="#222" stroke-width="0.95"/><text x="71.9" y="1.6" font-size="5">j</text></g><text transform="translate(343.40,242.40) scale(1,0.95)" text-anchor="middle" font-size="10" font-weight="bold" class="tb">Genotype Probability</text><text transform="translate(238.20,247.00) scale(1.07,1.05)" font-size="17.4" font-weight="bold" class="tl">E</text></g><g><line x1="510.3" y1="263.4" x2="510.3" y2="268.9" stroke="#1ec81e" stroke-width="1.6" stroke-dasharray="1.4 0.8"/><line x1="538.8" y1="263.4" x2="538.8" y2="267.8" stroke="#1ec81e" stroke-width="1.6" stroke-dasharray="1.4 0.8"/><line x1="538.8" y1="273.2" x2="538.8" y2="278.1" stroke="#1ec81e" stroke-width="1.6" stroke-dasharray="1.4 0.8"/><line x1="562.0" y1="263.4" x2="562.0" y2="268.9" stroke="#1ec81e" stroke-width="1.6" stroke-dasharray="1.4 0.8"/><line x1="579.7" y1="263.4" x2="579.7" y2="288.5" stroke="#1ec81e" stroke-width="1.6" stroke-dasharray="1.4 0.8"/><line x1="600.9" y1="296.1" x2="600.9" y2="306.0" stroke="#1ec81e" stroke-width="1.6" stroke-dasharray="1.4 0.8"/><line x1="620.0" y1="266.7" x2="620.0" y2="296.1" stroke="#1ec81e" stroke-width="1.5" stroke-dasharray="1.4 0.8"/><line x1="648.6" y1="267.8" x2="648.6" y2="306.0" stroke="#1ec81e" stroke-width="1.5" stroke-dasharray="1.4 0.8"/><line x1="668.9" y1="265.6" x2="668.9" y2="306.0" stroke="#1ec81e" stroke-width="1.7" stroke-dasharray="1.4 0.8"/><line x1="562.5" y1="313.1" x2="562.5" y2="347.4" stroke="#1ec81e" stroke-width="1.6" stroke-dasharray="1.4 0.8"/><line x1="566.1" y1="308.7" x2="566.1" y2="332.1" stroke="#1ec81e" stroke-width="1.4" stroke-dasharray="1.4 0.8"/><line x1="579.7" y1="319.1" x2="579.7" y2="323.4" stroke="#1ec81e" stroke-width="1.6" stroke-dasharray="1.4 0.8"/><line x1="594.9" y1="322.3" x2="594.9" y2="324.0" stroke="#1ec81e" stroke-width="1.4" stroke-dasharray="1.4 0.8"/><line x1="600.9" y1="306.0" x2="600.9" y2="354.0" stroke="#1ec81e" stroke-width="1.4" stroke-dasharray="1.4 0.8"/><line x1="600.9" y1="306.0" x2="600.9" y2="310.4" stroke="#1ec81e" stroke-width="1.8" stroke-dasharray="1.4 0.8"/><line x1="668.7" y1="306.0" x2="668.7" y2="328.3" stroke="#1ec81e" stroke-width="1.6" stroke-dasharray="1.4 0.8"/><line x1="562.5" y1="356.2" x2="562.5" y2="361.6" stroke="#1ec81e" stroke-width="1.6" stroke-dasharray="1.4 0.8"/><line x1="562.5" y1="366.0" x2="562.5" y2="369.2" stroke="#1ec81e" stroke-width="1.5" stroke-dasharray="1.4 0.8"/><path d="M598.3 265.6h0M599.0 265.1h0M598.8 266.3h0M596.6 264.2h0M600.3 264.5h0M614.1 265.6h0M616.2 265.2h0M593.1 265.9h0M598.5 264.2h0M604.0 266.7h0M602.6 264.6h0M620.1 266.7h0M603.1 263.9h0M616.2 266.0h0M601.5 266.0h0M602.9 264.4h0M609.8 265.9h0M606.0 266.1h0M591.0 265.1h0M602.9 263.7h0M620.2 263.9h0M597.2 266.3h0M621.7 266.5h0M601.7 266.5h0M595.2 265.8h0M621.2 264.1h0M595.0 265.7h0M619.2 265.8h0M621.4 264.9h0M602.6 263.8h0M599.4 266.5h0M592.9 264.0h0M601.8 263.6h0M600.5 264.0h0M594.6 265.2h0M608.1 265.3h0M615.3 265.2h0M621.3 263.7h0M597.8 263.7h0M600.6 265.9h0M620.5 265.1h0M595.8 264.5h0M609.0 264.4h0M616.3 266.6h0M605.5 265.4h0M618.0 265.0h0M596.8 266.5h0M622.3 263.5h0M615.3 264.7h0M592.3 264.0h0M596.2 265.8h0M597.4 263.5h0M597.7 266.0h0M606.8 265.6h0M605.7 264.0h0M591.1 264.4h0M591.9 264.3h0M610.6 264.6h0M605.9 265.5h0M600.9 264.6h0M619.2 265.3h0M604.1 265.2h0M605.5 264.5h0M620.2 264.2h0M620.9 266.2h0M619.2 264.0h0M607.1 266.7h0M599.9 264.0h0M614.0 264.2h0M609.5 264.0h0M621.3 264.4h0M593.7 265.7h0M601.8 265.3h0M606.7 266.5h0M607.2 264.7h0M590.6 265.1h0M599.3 265.3h0M611.1 264.9h0M593.5 265.1h0M606.2 265.5h0M622.0 264.4h0M604.9 263.7h0M616.5 264.2h0M617.5 266.0h0M598.8 266.4h0M606.9 264.8h0M608.6 266.5h0M606.5 265.0h0M600.0 266.2h0M606.9 264.6h0M596.9 264.1h0M617.6 266.1h0M622.3 266.4h0M612.8 266.0h0M613.6 266.1h0M616.6 264.0h0M617.0 264.4h0M598.5 266.4h0M591.3 265.1h0M601.7 266.0h0M593.4 270.7h0M594.7 269.5h0M591.4 269.6h0M591.5 271.0h0M594.4 268.1h0M591.8 269.7h0M594.0 271.0h0M593.5 267.3h0M593.9 267.0h0M594.4 270.1h0M594.1 270.5h0M593.3 270.8h0M593.6 268.8h0M592.6 268.2h0M591.2 267.4h0M600.7 267.7h0M600.1 270.1h0M600.3 269.0h0M598.8 267.9h0M598.4 269.5h0M600.3 270.8h0M598.9 270.7h0M601.1 268.0h0M621.9 281.5h0M622.0 285.2h0M619.6 273.4h0M620.3 278.4h0M618.5 287.4h0M620.4 278.0h0M621.2 272.7h0M619.1 280.6h0M619.2 274.5h0M618.6 268.0h0M619.7 279.3h0M621.9 282.0h0M619.9 276.4h0M619.2 278.1h0M622.0 269.6h0M620.0 283.1h0M637.9 265.3h0M635.6 266.5h0M640.7 264.3h0M633.6 266.7h0M633.3 264.1h0M638.0 263.6h0M625.9 265.2h0M628.3 265.8h0M637.2 264.5h0M638.0 265.6h0M636.8 264.9h0M631.5 263.8h0M632.3 266.6h0M640.4 263.6h0M624.4 264.3h0M636.6 264.9h0M625.5 264.8h0M634.2 265.9h0M630.9 265.6h0M636.3 265.5h0M623.9 265.8h0M625.5 263.6h0M632.3 263.5h0M624.4 264.7h0M632.2 263.8h0M641.7 266.2h0M632.5 265.4h0M629.2 266.7h0M625.3 264.4h0M627.3 266.3h0M633.0 264.8h0M630.8 266.3h0M628.0 266.0h0M636.9 264.9h0M630.2 264.9h0M631.9 264.5h0M635.2 264.8h0M628.9 266.0h0M631.9 265.0h0M640.2 264.9h0M630.4 266.4h0M642.1 266.0h0M630.9 265.6h0M637.5 264.4h0M637.2 266.5h0M635.8 265.6h0M631.5 265.6h0M627.4 266.0h0M633.6 266.6h0M629.7 265.8h0M623.3 264.8h0M638.0 264.3h0M635.0 264.2h0M630.8 266.7h0M626.9 266.4h0M624.2 265.3h0M639.1 266.2h0M630.7 265.4h0M636.9 265.9h0M637.6 265.3h0M627.9 265.7h0M634.0 265.2h0M642.3 263.9h0M638.3 268.5h0M637.2 271.9h0M628.4 269.8h0M633.3 269.4h0M626.3 270.1h0M640.5 270.3h0M628.7 271.1h0M631.2 267.5h0M634.9 269.2h0M633.4 272.1h0M634.2 271.9h0M629.9 270.8h0M624.5 268.3h0M636.6 270.5h0M639.2 268.8h0M628.4 268.7h0M633.5 266.8h0M630.3 270.3h0M625.9 268.4h0M640.1 271.8h0M627.9 267.7h0M625.3 267.2h0M638.6 270.7h0M628.2 269.4h0M636.6 266.9h0M639.0 271.4h0M627.1 270.5h0M636.7 268.5h0M640.2 267.9h0M632.3 268.4h0M631.7 271.1h0M634.2 270.0h0M641.3 279.7h0M627.1 293.1h0M625.8 304.8h0M629.3 287.0h0M631.0 300.2h0M639.9 295.1h0M626.2 284.2h0M636.1 279.5h0M639.3 301.7h0M627.2 284.5h0M627.2 296.5h0M623.9 295.7h0M624.2 300.6h0M633.0 291.9h0M624.8 273.6h0M629.5 305.5h0M634.1 301.3h0M624.2 275.6h0M623.4 295.7h0M626.3 281.4h0M635.3 295.7h0M629.0 288.0h0M628.3 291.1h0M629.6 284.3h0M627.6 282.0h0M605.8 268.6h0M608.5 289.9h0M606.2 272.2h0M636.8 285.4h0M619.1 279.5h0M639.0 295.9h0M625.0 292.4h0M628.7 286.5h0M613.9 282.4h0M618.7 285.3h0M620.0 287.7h0M633.8 301.0h0M603.9 268.8h0M608.0 269.2h0M634.2 291.0h0M607.1 275.1h0M638.0 298.9h0M628.2 293.6h0M631.5 284.8h0M613.1 288.5h0M638.7 304.7h0M640.6 298.9h0M595.9 277.1h0M643.5 288.1h0M619.3 279.5h0M637.7 287.1h0M644.5 270.8h0M644.6 268.5h0M599.9 282.4h0M625.9 272.1h0M621.8 302.8h0M615.1 296.2h0M623.4 289.5h0M601.2 285.2h0M639.7 292.9h0M603.5 284.5h0M620.8 280.5h0M622.6 291.4h0M592.9 276.1h0M626.8 275.9h0M595.9 296.2h0M609.7 303.4h0M621.6 271.7h0M625.8 277.7h0M635.2 294.8h0M632.2 270.1h0M593.8 297.5h0M599.4 275.5h0M593.6 274.0h0M617.1 303.4h0M609.0 277.6h0M635.9 274.8h0M625.7 290.8h0M641.6 269.6h0M621.8 282.2h0M635.7 277.3h0M629.9 274.9h0M618.2 303.8h0M604.7 278.3h0M640.6 293.0h0M595.5 274.9h0M604.6 278.7h0M636.8 293.9h0M643.9 292.8h0M625.3 282.2h0M630.0 286.3h0M595.1 286.2h0M612.4 287.6h0M594.6 269.0h0M644.1 281.7h0M609.5 273.5h0M623.4 301.8h0M601.6 286.5h0M618.5 296.3h0M621.9 276.8h0M602.1 294.8h0M596.1 300.0h0M593.8 275.0h0M616.8 299.2h0M624.8 295.6h0M632.3 294.7h0M594.7 298.5h0M599.8 274.0h0M594.0 269.1h0M638.5 282.1h0M596.6 269.7h0M636.9 290.3h0M640.6 269.4h0M598.0 278.6h0M602.1 272.1h0M602.6 291.7h0M600.9 274.2h0M620.4 281.9h0M599.9 289.0h0M618.9 282.4h0M617.1 269.5h0M624.6 275.2h0M609.8 268.3h0M665.0 268.8h0M663.9 268.4h0M665.1 265.1h0M663.9 269.8h0M663.9 269.8h0M665.0 264.3h0M663.7 266.4h0M664.7 270.4h0M664.6 271.5h0M663.4 267.2h0M664.9 270.2h0M663.3 272.0h0M664.7 271.1h0M663.8 268.9h0M665.1 271.3h0M618.4 348.7h0M620.5 348.3h0M618.8 349.2h0M616.3 345.0h0M618.4 342.9h0M619.4 342.4h0" stroke="#1ec81e" stroke-width="1.7" stroke-linecap="round" fill="none"/><path d="M510.5 272.5h0M510.5 277.5h0M510.5 281.5h0M510.5 284.5h0M510.5 285.5h0M510.5 286.5h0M538.5 286.5h0M561.5 272.5h0M561.5 277.5h0M561.5 284.5h0M582.5 263.5h0M592.5 272.5h0M592.5 275.5h0M592.5 278.5h0M592.5 281.5h0M592.5 285.5h0M592.5 290.5h0M592.5 299.5h0M592.5 301.5h0M593.5 273.5h0M593.5 277.5h0M593.5 280.5h0M593.5 284.5h0M593.5 287.5h0M593.5 292.5h0M594.5 279.5h0M594.5 286.5h0M594.5 290.5h0M594.5 292.5h0M599.5 277.5h0M599.5 281.5h0M599.5 285.5h0M599.5 289.5h0M603.5 271.5h0M603.5 281.5h0M603.5 284.5h0M604.5 296.5h0M606.5 285.5h0M609.5 268.5h0M609.5 270.5h0M609.5 272.5h0M609.5 277.5h0M609.5 284.5h0M609.5 289.5h0M609.5 292.5h0M611.5 289.5h0M616.5 267.5h0M616.5 269.5h0M616.5 272.5h0M616.5 274.5h0M616.5 276.5h0M616.5 278.5h0M616.5 280.5h0M616.5 283.5h0M616.5 294.5h0M616.5 297.5h0M616.5 299.5h0M622.5 299.5h0M645.5 263.5h0M645.5 265.5h0M645.5 267.5h0M645.5 269.5h0M645.5 275.5h0M645.5 277.5h0M655.5 263.5h0M655.5 266.5h0M655.5 267.5h0M657.5 263.5h0M657.5 265.5h0M663.5 280.5h0M663.5 283.5h0M663.5 285.5h0M663.5 287.5h0M663.5 298.5h0M673.5 265.5h0M510.5 322.5h0M510.5 335.5h0M510.5 347.5h0M538.5 320.5h0M538.5 338.5h0M562.5 350.5h0M566.5 338.5h0M566.5 344.5h0M566.5 347.5h0M579.5 307.5h0M579.5 332.5h0M579.5 335.5h0M579.5 351.5h0M579.5 353.5h0M581.5 346.5h0M591.5 315.5h0M591.5 320.5h0M591.5 337.5h0M593.5 307.5h0M593.5 310.5h0M593.5 325.5h0M593.5 328.5h0M594.5 314.5h0M594.5 345.5h0M594.5 351.5h0M603.5 315.5h0M605.5 312.5h0M605.5 327.5h0M605.5 344.5h0M609.5 335.5h0M612.5 316.5h0M612.5 320.5h0M612.5 342.5h0M617.5 310.5h0M617.5 316.5h0M617.5 319.5h0M617.5 327.5h0M617.5 331.5h0M619.5 316.5h0M621.5 319.5h0M621.5 334.5h0M621.5 335.5h0M623.5 316.5h0M623.5 320.5h0M623.5 334.5h0M627.5 313.5h0M627.5 320.5h0M627.5 330.5h0M627.5 350.5h0M632.5 306.5h0M632.5 307.5h0M632.5 309.5h0M632.5 310.5h0M632.5 314.5h0M632.5 317.5h0M632.5 323.5h0M632.5 325.5h0M632.5 333.5h0M632.5 352.5h0M633.5 307.5h0M633.5 309.5h0M633.5 324.5h0M638.5 306.5h0M638.5 307.5h0M638.5 313.5h0M638.5 320.5h0M639.5 314.5h0M639.5 324.5h0M644.5 310.5h0M644.5 342.5h0M645.5 327.5h0M645.5 329.5h0M645.5 331.5h0M648.5 306.5h0M648.5 307.5h0M648.5 323.5h0M648.5 331.5h0M648.5 334.5h0M648.5 342.5h0M648.5 346.5h0M664.5 310.5h0M664.5 323.5h0M665.5 313.5h0M562.5 377.5h0M562.5 379.5h0M562.5 381.5h0M562.5 382.5h0M562.5 384.5h0M562.5 392.5h0M562.5 393.5h0M562.5 395.5h0M566.5 357.5h0M566.5 360.5h0M566.5 363.5h0M566.5 370.5h0M566.5 380.5h0M566.5 383.5h0M566.5 386.5h0M566.5 393.5h0M580.5 354.5h0M580.5 355.5h0M580.5 367.5h0M580.5 391.5h0M581.5 367.5h0M591.5 376.5h0M591.5 383.5h0M591.5 393.5h0M593.5 394.5h0M594.5 354.5h0M594.5 356.5h0M598.5 356.5h0M598.5 361.5h0M598.5 379.5h0M601.5 359.5h0M601.5 363.5h0M601.5 381.5h0M603.5 364.5h0M605.5 376.5h0M605.5 384.5h0M608.5 380.5h0M613.5 374.5h0M616.5 355.5h0M616.5 372.5h0M616.5 388.5h0M619.5 356.5h0M619.5 363.5h0M619.5 388.5h0M622.5 361.5h0M622.5 364.5h0M622.5 369.5h0M623.5 361.5h0M623.5 364.5h0M623.5 369.5h0M627.5 382.5h0M633.5 379.5h0M638.5 379.5h0M644.5 392.5h0M657.5 356.5h0M663.5 356.5h0M663.5 357.5h0M663.5 358.5h0M663.5 362.5h0M668.5 356.5h0M668.5 357.5h0M668.5 358.5h0M668.5 361.5h0M668.5 362.5h0M668.5 364.5h0M668.5 379.5h0M668.5 380.5h0M668.5 382.5h0M668.5 395.5h0" stroke="#c8f2c8" stroke-width="2.3" stroke-linecap="round" fill="none"/><path d="M510.5 272.5h0M510.5 277.5h0M510.5 281.5h0M510.5 284.5h0M510.5 285.5h0M510.5 286.5h0M538.5 286.5h0M561.5 272.5h0M561.5 277.5h0M561.5 284.5h0M582.5 263.5h0M592.5 272.5h0M592.5 275.5h0M592.5 278.5h0M592.5 281.5h0M592.5 285.5h0M592.5 290.5h0M592.5 299.5h0M592.5 301.5h0M593.5 273.5h0M593.5 277.5h0M593.5 280.5h0M593.5 284.5h0M593.5 287.5h0M593.5 292.5h0M594.5 279.5h0M594.5 286.5h0M594.5 290.5h0M594.5 292.5h0M599.5 277.5h0M599.5 281.5h0M599.5 285.5h0M599.5 289.5h0M603.5 271.5h0M603.5 281.5h0M603.5 284.5h0M604.5 296.5h0M606.5 285.5h0M609.5 268.5h0M609.5 270.5h0M609.5 272.5h0M609.5 277.5h0M609.5 284.5h0M609.5 289.5h0M609.5 292.5h0M611.5 289.5h0M616.5 267.5h0M616.5 269.5h0M616.5 272.5h0M616.5 274.5h0M616.5 276.5h0M616.5 278.5h0M616.5 280.5h0M616.5 283.5h0M616.5 294.5h0M616.5 297.5h0M616.5 299.5h0M622.5 299.5h0M645.5 263.5h0M645.5 265.5h0M645.5 267.5h0M645.5 269.5h0M645.5 275.5h0M645.5 277.5h0M655.5 263.5h0M655.5 266.5h0M655.5 267.5h0M657.5 263.5h0M657.5 265.5h0M663.5 280.5h0M663.5 283.5h0M663.5 285.5h0M663.5 287.5h0M663.5 298.5h0M673.5 265.5h0M510.5 322.5h0M510.5 335.5h0M510.5 347.5h0M538.5 320.5h0M538.5 338.5h0M562.5 350.5h0M566.5 338.5h0M566.5 344.5h0M566.5 347.5h0M579.5 307.5h0M579.5 332.5h0M579.5 335.5h0M579.5 351.5h0M579.5 353.5h0M581.5 346.5h0M591.5 315.5h0M591.5 320.5h0M591.5 337.5h0M593.5 307.5h0M593.5 310.5h0M593.5 325.5h0M593.5 328.5h0M594.5 314.5h0M594.5 345.5h0M594.5 351.5h0M603.5 315.5h0M605.5 312.5h0M605.5 327.5h0M605.5 344.5h0M609.5 335.5h0M612.5 316.5h0M612.5 320.5h0M612.5 342.5h0M617.5 310.5h0M617.5 316.5h0M617.5 319.5h0M617.5 327.5h0M617.5 331.5h0M619.5 316.5h0M621.5 319.5h0M621.5 334.5h0M621.5 335.5h0M623.5 316.5h0M623.5 320.5h0M623.5 334.5h0M627.5 313.5h0M627.5 320.5h0M627.5 330.5h0M627.5 350.5h0M632.5 306.5h0M632.5 307.5h0M632.5 309.5h0M632.5 310.5h0M632.5 314.5h0M632.5 317.5h0M632.5 323.5h0M632.5 325.5h0M632.5 333.5h0M632.5 352.5h0M633.5 307.5h0M633.5 309.5h0M633.5 324.5h0M638.5 306.5h0M638.5 307.5h0M638.5 313.5h0M638.5 320.5h0M639.5 314.5h0M639.5 324.5h0M644.5 310.5h0M644.5 342.5h0M645.5 327.5h0M645.5 329.5h0M645.5 331.5h0M648.5 306.5h0M648.5 307.5h0M648.5 323.5h0M648.5 331.5h0M648.5 334.5h0M648.5 342.5h0M648.5 346.5h0M664.5 310.5h0M664.5 323.5h0M665.5 313.5h0M562.5 377.5h0M562.5 379.5h0M562.5 381.5h0M562.5 382.5h0M562.5 384.5h0M562.5 392.5h0M562.5 393.5h0M562.5 395.5h0M566.5 357.5h0M566.5 360.5h0M566.5 363.5h0M566.5 370.5h0M566.5 380.5h0M566.5 383.5h0M566.5 386.5h0M566.5 393.5h0M580.5 354.5h0M580.5 355.5h0M580.5 367.5h0M580.5 391.5h0M581.5 367.5h0M591.5 376.5h0M591.5 383.5h0M591.5 393.5h0M593.5 394.5h0M594.5 354.5h0M594.5 356.5h0M598.5 356.5h0M598.5 361.5h0M598.5 379.5h0M601.5 359.5h0M601.5 363.5h0M601.5 381.5h0M603.5 364.5h0M605.5 376.5h0M605.5 384.5h0M608.5 380.5h0M613.5 374.5h0M616.5 355.5h0M616.5 372.5h0M616.5 388.5h0M619.5 356.5h0M619.5 363.5h0M619.5 388.5h0M622.5 361.5h0M622.5 364.5h0M622.5 369.5h0M623.5 361.5h0M623.5 364.5h0M623.5 369.5h0M627.5 382.5h0M633.5 379.5h0M638.5 379.5h0M644.5 392.5h0M657.5 356.5h0M663.5 356.5h0M663.5 357.5h0M663.5 358.5h0M663.5 362.5h0M668.5 356.5h0M668.5 357.5h0M668.5 358.5h0M668.5 361.5h0M668.5 362.5h0M668.5 364.5h0M668.5 379.5h0M668.5 380.5h0M668.5 382.5h0M668.5 395.5h0" stroke="#4b8a58" stroke-width="1.3" stroke-linecap="round" fill="none"/><line x1="507.10" y1="402.10" x2="680.70" y2="258.50" stroke="#7c7c7c" stroke-width="0.85"/><rect x="507.50" y="258.50" width="173.00" height="144.00" fill="none" stroke="#8e8e8e" stroke-width="1"/><line x1="513.53" y1="402.10" x2="513.53" y2="407.70" stroke="#8e8e8e" stroke-width="1"/><line x1="501.50" y1="396.78" x2="507.10" y2="396.78" stroke="#8e8e8e" stroke-width="1"/><text transform="translate(513.53,420.60) scale(1,1.15)" text-anchor="middle" font-size="8" class="t">0.980</text><text transform="translate(495.40,396.78) rotate(-90) scale(1,1.18)" text-anchor="middle" font-size="8.0" class="t">0.980</text><line x1="553.71" y1="402.10" x2="553.71" y2="407.70" stroke="#8e8e8e" stroke-width="1"/><line x1="501.50" y1="363.54" x2="507.10" y2="363.54" stroke="#8e8e8e" stroke-width="1"/><text transform="translate(553.71,420.60) scale(1,1.15)" text-anchor="middle" font-size="8" class="t">0.985</text><text transform="translate(495.40,363.54) rotate(-90) scale(1,1.18)" text-anchor="middle" font-size="8.0" class="t">0.985</text><line x1="593.90" y1="402.10" x2="593.90" y2="407.70" stroke="#8e8e8e" stroke-width="1"/><line x1="501.50" y1="330.30" x2="507.10" y2="330.30" stroke="#8e8e8e" stroke-width="1"/><text transform="translate(593.90,420.60) scale(1,1.15)" text-anchor="middle" font-size="8" class="t">0.990</text><text transform="translate(495.40,330.30) rotate(-90) scale(1,1.18)" text-anchor="middle" font-size="8.0" class="t">0.990</text><line x1="634.09" y1="402.10" x2="634.09" y2="407.70" stroke="#8e8e8e" stroke-width="1"/><line x1="501.50" y1="297.06" x2="507.10" y2="297.06" stroke="#8e8e8e" stroke-width="1"/><text transform="translate(634.09,420.60) scale(1,1.15)" text-anchor="middle" font-size="8" class="t">0.995</text><text transform="translate(495.40,297.06) rotate(-90) scale(1,1.18)" text-anchor="middle" font-size="8.0" class="t">0.995</text><line x1="674.27" y1="402.10" x2="674.27" y2="407.70" stroke="#8e8e8e" stroke-width="1"/><line x1="501.50" y1="263.82" x2="507.10" y2="263.82" stroke="#8e8e8e" stroke-width="1"/><text transform="translate(674.27,420.60) scale(1,1.15)" text-anchor="middle" font-size="8" class="t">1.000</text><text transform="translate(495.40,263.82) rotate(-90) scale(1,1.18)" text-anchor="middle" font-size="8.0" class="t">1.000</text><text transform="translate(476.10,330.30) rotate(-90) scale(1,1.2)" text-anchor="middle" font-size="8" class="t">Quantitative</text><g transform="translate(557.10,437.70) scale(1,1.116)" class="t"><text x="0" y="0" font-size="8.45">Perturbed, error =</text><text x="68.9" y="0" font-size="7">&#949;</text><path d="M69.00,-4.6 q0.8,-1.1 1.6,-0.4 t1.6,-0.4" fill="none" stroke="#222" stroke-width="0.95"/><text x="71.9" y="1.6" font-size="5">j</text></g><text transform="translate(577.90,242.40) scale(1,0.95)" text-anchor="middle" font-size="10" font-weight="bold" class="tb">Genotype Probability</text><text transform="translate(472.70,247.00) scale(1.07,1.05)" font-size="17.4" font-weight="bold" class="tl">F</text></g>
</svg></body></html>
